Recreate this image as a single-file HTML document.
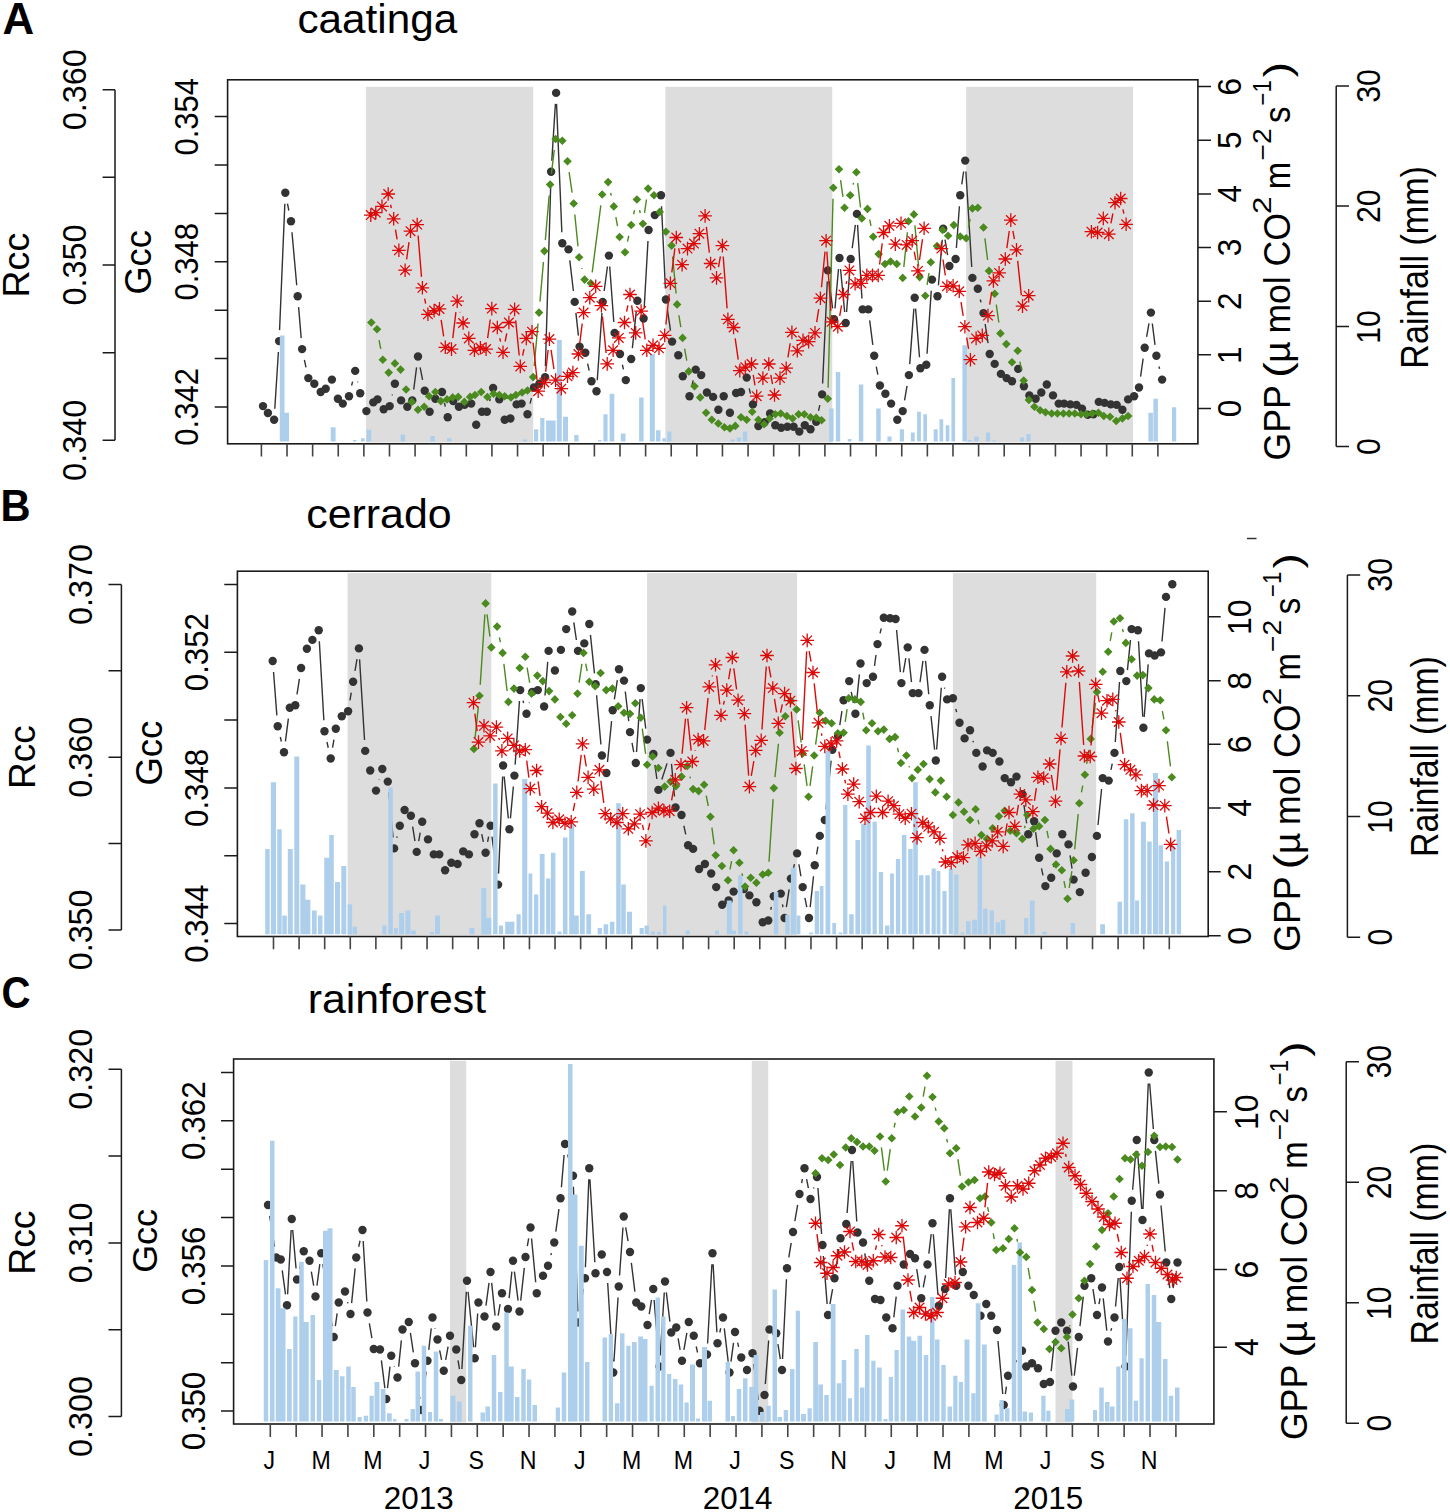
<!DOCTYPE html><html><head><meta charset="utf-8"><style>html,body{margin:0;padding:0;background:#fff;}svg{display:block;}</style></head><body>
<svg width="1450" height="1512" viewBox="0 0 1450 1512" font-family='"Liberation Sans", sans-serif' fill="#000">
<rect width="1450" height="1512" fill="#fff"/>
<rect x="365.9" y="86.8" width="167.3" height="355.7" fill="#dddddd"/>
<rect x="665.4" y="86.8" width="166.9" height="355.7" fill="#dddddd"/>
<rect x="966.2" y="86.8" width="166.9" height="355.7" fill="#dddddd"/>
<path fill="none" stroke="#333333" stroke-width="1.4" d="M274.8 408.72L278.4 352.08M279.56 330.11L284.84 203.79M287.46 203.59L288.84 210.51M291.98 232.26L296.72 285.24M298.61 307.16L301.19 338.14M304.4 359.86L306 367.34M351.62 385.52L352.58 381.58M357.61 381.63L357.79 382.47M392.2 395.39L392.4 394.51M413.72 389.49L416.58 367.41M420.11 367.29L422.59 379.91M444.42 402.73L445.28 406.57M489.67 401.16L490.33 398.64M530.09 403.61L531.41 398.19M545.42 366.1L550.78 182.7M551.8 160.72L555.4 103.88M556.55 103.89L561.85 232.21M569.79 260.32L573.41 290.98M575.9 312.83L578.4 335.67M587.64 363.55L589.16 370.55M597.26 380.23L601.94 312.87M604.16 291L607.44 266.5M609.71 266.57L613.79 321.93M622.39 364.74L623.41 369.36M632.36 348.06L636.24 311.64M644.22 307.52L647.98 240.98M661.52 206.29L665.38 288.51M667.5 310.38L670.5 330.72M692 385.49L693.2 380.31M749.18 388.32L750.42 393.68M818.52 410.95L819.78 405.15M822.61 383.41L827.29 281.39M829.18 281.31L832.62 308.39M834.98 308.34L838.52 268.96M840.54 268.95L844.66 312.05M846.56 312.03L849.84 269.97M852.2 248.1L855.4 224.8M857.56 224.88L861.94 298.42M869.69 320.31L872.81 344.89M876.27 366.6L877.83 374.7M904.57 400.26L907.03 385.94M909.72 364.13L913.88 308.67M915.59 308.66L919.51 357.24M927.04 353.72L931.26 290.58M938.43 285.24L942.27 239.76M945.01 239.65L947.59 255.15M956.39 248.03L959.41 206.27M961.77 184.41L963.63 171.49M965.87 171.58L971.73 266.92M980.31 299.51L980.99 302.39M985.15 323.98L988.05 343.12M1140.56 376.61L1143.14 358.69M1146.61 336.97L1148.99 323.43M1152.29 323.51L1155.01 344.89M1158.96 366.5L1159.54 368.9"/>
<g fill="#333333"><circle cx="263" cy="406.1" r="4.2"/><circle cx="267.9" cy="413" r="4.2"/><circle cx="274.1" cy="419.7" r="4.2"/><circle cx="279.1" cy="341.1" r="4.2"/><circle cx="285.3" cy="192.8" r="4.2"/><circle cx="291" cy="221.3" r="4.2"/><circle cx="297.7" cy="296.2" r="4.2"/><circle cx="302.1" cy="349.1" r="4.2"/><circle cx="308.3" cy="378.1" r="4.2"/><circle cx="314.3" cy="383.8" r="4.2"/><circle cx="320.7" cy="392" r="4.2"/><circle cx="325.7" cy="388.7" r="4.2"/><circle cx="331.9" cy="379.6" r="4.2"/><circle cx="337.9" cy="398.7" r="4.2"/><circle cx="342.8" cy="403.6" r="4.2"/><circle cx="349" cy="396.2" r="4.2"/><circle cx="355.2" cy="370.9" r="4.2"/><circle cx="360.2" cy="393.2" r="4.2"/><circle cx="366.4" cy="411.1" r="4.2"/><circle cx="373.3" cy="402.4" r="4.2"/><circle cx="377.5" cy="399.4" r="4.2"/><circle cx="383.7" cy="409.3" r="4.2"/><circle cx="389.7" cy="406.1" r="4.2"/><circle cx="394.9" cy="383.8" r="4.2"/><circle cx="401.1" cy="400.4" r="4.2"/><circle cx="407.3" cy="406.8" r="4.2"/><circle cx="412.3" cy="400.4" r="4.2"/><circle cx="418" cy="356.5" r="4.2"/><circle cx="424.7" cy="390.7" r="4.2"/><circle cx="429.6" cy="411.8" r="4.2"/><circle cx="435.3" cy="398.7" r="4.2"/><circle cx="442" cy="392" r="4.2"/><circle cx="447.7" cy="417.3" r="4.2"/><circle cx="453.2" cy="401.1" r="4.2"/><circle cx="458.9" cy="406.8" r="4.2"/><circle cx="464.6" cy="404.9" r="4.2"/><circle cx="471.2" cy="403.6" r="4.2"/><circle cx="476.2" cy="424.7" r="4.2"/><circle cx="481.9" cy="411.8" r="4.2"/><circle cx="486.9" cy="411.8" r="4.2"/><circle cx="493.1" cy="388" r="4.2"/><circle cx="499.3" cy="399.4" r="4.2"/><circle cx="504.7" cy="419.7" r="4.2"/><circle cx="510.4" cy="418.5" r="4.2"/><circle cx="516.6" cy="404.4" r="4.2"/><circle cx="521.6" cy="403.6" r="4.2"/><circle cx="527.5" cy="414.3" r="4.2"/><circle cx="534" cy="387.5" r="4.2"/><circle cx="539.4" cy="383.8" r="4.2"/><circle cx="545.1" cy="377.1" r="4.2"/><circle cx="551.1" cy="171.7" r="4.2"/><circle cx="556.1" cy="92.9" r="4.2"/><circle cx="562.3" cy="243.2" r="4.2"/><circle cx="568.5" cy="249.4" r="4.2"/><circle cx="574.7" cy="301.9" r="4.2"/><circle cx="579.6" cy="346.6" r="4.2"/><circle cx="585.3" cy="352.8" r="4.2"/><circle cx="591.5" cy="381.3" r="4.2"/><circle cx="596.5" cy="391.2" r="4.2"/><circle cx="602.7" cy="301.9" r="4.2"/><circle cx="608.9" cy="255.6" r="4.2"/><circle cx="614.6" cy="332.9" r="4.2"/><circle cx="620" cy="354" r="4.2"/><circle cx="625.8" cy="380.1" r="4.2"/><circle cx="631.2" cy="359" r="4.2"/><circle cx="637.4" cy="300.7" r="4.2"/><circle cx="643.6" cy="318.5" r="4.2"/><circle cx="648.6" cy="230" r="4.2"/><circle cx="654.8" cy="215.1" r="4.2"/><circle cx="661" cy="195.3" r="4.2"/><circle cx="665.9" cy="299.5" r="4.2"/><circle cx="672.1" cy="341.6" r="4.2"/><circle cx="678.3" cy="355.3" r="4.2"/><circle cx="682.8" cy="376.3" r="4.2"/><circle cx="689.5" cy="396.2" r="4.2"/><circle cx="695.7" cy="369.6" r="4.2"/><circle cx="701.2" cy="375.1" r="4.2"/><circle cx="706.9" cy="392.5" r="4.2"/><circle cx="713.1" cy="396.9" r="4.2"/><circle cx="718.4" cy="409.8" r="4.2"/><circle cx="723.7" cy="396.2" r="4.2"/><circle cx="729.9" cy="412.8" r="4.2"/><circle cx="736.1" cy="393" r="4.2"/><circle cx="741" cy="392" r="4.2"/><circle cx="746.7" cy="377.6" r="4.2"/><circle cx="752.9" cy="404.4" r="4.2"/><circle cx="758.4" cy="426" r="4.2"/><circle cx="764.6" cy="422.2" r="4.2"/><circle cx="770.1" cy="413.5" r="4.2"/><circle cx="775.3" cy="425.2" r="4.2"/><circle cx="781.2" cy="427.7" r="4.2"/><circle cx="787.4" cy="426.7" r="4.2"/><circle cx="793.6" cy="426.7" r="4.2"/><circle cx="799.3" cy="431.6" r="4.2"/><circle cx="804.8" cy="425.2" r="4.2"/><circle cx="810.5" cy="429.2" r="4.2"/><circle cx="816.2" cy="421.7" r="4.2"/><circle cx="822.1" cy="394.4" r="4.2"/><circle cx="827.8" cy="270.4" r="4.2"/><circle cx="834" cy="319.3" r="4.2"/><circle cx="839.5" cy="258" r="4.2"/><circle cx="845.7" cy="323" r="4.2"/><circle cx="850.7" cy="259" r="4.2"/><circle cx="856.9" cy="213.9" r="4.2"/><circle cx="862.6" cy="309.4" r="4.2"/><circle cx="868.3" cy="309.4" r="4.2"/><circle cx="874.2" cy="355.8" r="4.2"/><circle cx="879.9" cy="385.5" r="4.2"/><circle cx="885.4" cy="393.7" r="4.2"/><circle cx="891.1" cy="403.6" r="4.2"/><circle cx="897.3" cy="419.7" r="4.2"/><circle cx="902.7" cy="411.1" r="4.2"/><circle cx="908.9" cy="375.1" r="4.2"/><circle cx="914.7" cy="297.7" r="4.2"/><circle cx="920.4" cy="368.2" r="4.2"/><circle cx="926.3" cy="364.7" r="4.2"/><circle cx="932" cy="279.6" r="4.2"/><circle cx="937.5" cy="296.2" r="4.2"/><circle cx="943.2" cy="228.8" r="4.2"/><circle cx="949.4" cy="266" r="4.2"/><circle cx="955.6" cy="259" r="4.2"/><circle cx="960.2" cy="195.3" r="4.2"/><circle cx="965.2" cy="160.6" r="4.2"/><circle cx="972.4" cy="277.9" r="4.2"/><circle cx="977.8" cy="288.8" r="4.2"/><circle cx="983.5" cy="313.1" r="4.2"/><circle cx="989.7" cy="354" r="4.2"/><circle cx="994.7" cy="363.9" r="4.2"/><circle cx="1000.9" cy="373.9" r="4.2"/><circle cx="1006.6" cy="378.1" r="4.2"/><circle cx="1012" cy="381.3" r="4.2"/><circle cx="1018.2" cy="368.9" r="4.2"/><circle cx="1023.9" cy="386.3" r="4.2"/><circle cx="1029.4" cy="395.4" r="4.2"/><circle cx="1035.6" cy="398.7" r="4.2"/><circle cx="1041.3" cy="392.5" r="4.2"/><circle cx="1046.8" cy="384.5" r="4.2"/><circle cx="1053" cy="395.4" r="4.2"/><circle cx="1058.7" cy="403.6" r="4.2"/><circle cx="1064.1" cy="403.6" r="4.2"/><circle cx="1070.3" cy="404.4" r="4.2"/><circle cx="1076.5" cy="404.9" r="4.2"/><circle cx="1082" cy="408.6" r="4.2"/><circle cx="1087.7" cy="414.8" r="4.2"/><circle cx="1093.4" cy="414.3" r="4.2"/><circle cx="1098.8" cy="401.9" r="4.2"/><circle cx="1104.6" cy="402.9" r="4.2"/><circle cx="1110.8" cy="404.4" r="4.2"/><circle cx="1116.7" cy="404.9" r="4.2"/><circle cx="1122.4" cy="409.8" r="4.2"/><circle cx="1128.1" cy="399.4" r="4.2"/><circle cx="1134.1" cy="396.2" r="4.2"/><circle cx="1139" cy="387.5" r="4.2"/><circle cx="1144.7" cy="347.8" r="4.2"/><circle cx="1150.9" cy="312.6" r="4.2"/><circle cx="1156.4" cy="355.8" r="4.2"/><circle cx="1162.1" cy="379.6" r="4.2"/></g>
<path fill="#aecfeb" d="M279.8 441.5H284.5V335.4H279.8ZM284.5 441.5H289V412.8H284.5ZM330.7 441.5H335.6V427.2H330.7ZM353 441.5H356.5V440H353ZM361 441.5H364.6V438.3H361ZM366.6 441.5H371.3V429.7H366.6ZM400.6 441.5H405.1V434.6H400.6ZM430.4 441.5H434.8V435.9H430.4ZM447 441.5H451.5V438.3H447ZM522.8 441.5H527V439.5H522.8ZM534 441.5H538.2V429.2H534ZM540.2 441.5H544.4V418H540.2ZM546.1 441.5H550.5V420.5H546.1ZM550.5 441.5H555.6V420.5H550.5ZM556.8 441.5H561.8V339.9H556.8ZM563 441.5H568V416.8H563ZM574.2 441.5H578.6V435.1H574.2ZM598 441.5H601.5V440H598ZM603.4 441.5H607.6V414.3H603.4ZM609.6 441.5H614.3V393.7H609.6ZM620.8 441.5H625.5V433.4H620.8ZM639.1 441.5H643.6V397.4H639.1ZM649.8 441.5H654.8V354H649.8ZM656 441.5H660.5V430.2H656ZM662.2 441.5H665.9V438.3H662.2ZM667.2 441.5H671.4V431.6H667.2ZM730.4 441.5H734.8V439.6H730.4ZM736.8 441.5H741V437.6H736.8ZM742.8 441.5H747.2V431.6H742.8ZM829.1 441.5H833.6V408.6H829.1ZM835.8 441.5H840.2V372.1H835.8ZM847.7 441.5H851.4V439H847.7ZM858.8 441.5H863.3V384.5H858.8ZM876.2 441.5H880.7V408.6H876.2ZM887.4 441.5H891.6V436.6H887.4ZM899.8 441.5H904V429.2H899.8ZM910.9 441.5H914.7V432.6H910.9ZM917.1 441.5H920.9V411.8H917.1ZM923.3 441.5H927V414.3H923.3ZM933.7 441.5H937.7V429.2H933.7ZM939.5 441.5H943.2V419.2H939.5ZM945.7 441.5H949.4V425.2H945.7ZM951.4 441.5H955.1V378.1H951.4ZM962.4 441.5H966.9V345.3H962.4ZM968 441.5H972V440H968ZM974.3 441.5H978.6V436.6H974.3ZM986 441.5H990.2V432.6H986ZM992 441.5H996V440.5H992ZM1020 441.5H1024V437.6H1020ZM1026.4 441.5H1030.6V434.1H1026.4ZM1148.4 441.5H1152.9V412.8H1148.4ZM1153.4 441.5H1157.9V398.7H1153.4ZM1172 441.5H1176.2V407.3H1172Z"/>
<path fill="none" stroke="#4a8a1e" stroke-width="1.4" d="M379.05 340.01L380.75 348.89M534.19 366.14L538.01 323.56M539.96 301.64L543.44 262.06M545.34 240.14L549.16 195.56M551.42 173.68L554.28 149.92M569.1 172.18L572.1 192.62M574.8 214.45L578 246.35M581.73 267.98L581.97 268.92M592.2 272.39L600.8 205.41M610.61 192.81L611.29 195.69M615.85 217.21L617.55 226.19M627.44 241.57L628.76 235.73M633.6 214.26L634.5 210.24M639.54 210.18L640.26 213.12M644.51 212.92L646.49 199.48M672.62 256.55L676.08 293.45M678.88 315.25L680.82 327.05M684.6 348.72L686.8 360.58M828.09 387.7L833.01 198.8M840.56 180.09L842.94 196.81M853.05 184.68L853.55 182.82M857.68 183.13L860.52 207.47M869.71 219.68L870.99 225.92M903.82 266.96L907.38 232.24M914.9 225.35L918.6 266.15M927.09 284.85L929.01 273.15M968.44 227.43L970.16 219.17M984.88 238.41L987.62 259.99M991.67 281.57L992.03 283.03M996.26 304.59L998.84 322.51M1019.87 361.58L1021.53 369.82"/>
<path fill="#4a8a1e" d="M371.3 318.2L375.6 322.5L371.3 326.8L367 322.5ZM377 324.9L381.3 329.2L377 333.5L372.7 329.2ZM382.8 355.4L387.1 359.7L382.8 364L378.5 359.7ZM388.7 368.3L393 372.6L388.7 376.9L384.4 372.6ZM394.9 359.1L399.2 363.4L394.9 367.7L390.6 363.4ZM400.6 365.3L404.9 369.6L400.6 373.9L396.3 369.6ZM406.1 385.2L410.4 389.5L406.1 393.8L401.8 389.5ZM411.8 397.6L416.1 401.9L411.8 406.2L407.5 401.9ZM418 405.5L422.3 409.8L418 414.1L413.7 409.8ZM424.2 402.5L428.5 406.8L424.2 411.1L419.9 406.8ZM429.1 391.9L433.4 396.2L429.1 400.5L424.8 396.2ZM435.3 387.7L439.6 392L435.3 396.3L431 392ZM440.8 396.8L445.1 401.1L440.8 405.4L436.5 401.1ZM447 395.1L451.3 399.4L447 403.7L442.7 399.4ZM452.7 393.1L457 397.4L452.7 401.7L448.4 397.4ZM458.2 392.6L462.5 396.9L458.2 401.2L453.9 396.9ZM464.4 397.6L468.7 401.9L464.4 406.2L460.1 401.9ZM470.1 392.6L474.4 396.9L470.1 401.2L465.8 396.9ZM475 390.7L479.3 395L475 399.3L470.7 395ZM481.2 387.7L485.5 392L481.2 396.3L476.9 392ZM487.4 392.7L491.7 397L487.4 401.3L483.1 397ZM493.6 389.4L497.9 393.7L493.6 398L489.3 393.7ZM499.3 390.7L503.6 395L499.3 399.3L495 395ZM504.7 391.9L509 396.2L504.7 400.5L500.4 396.2ZM510.9 393.1L515.2 397.4L510.9 401.7L506.6 397.4ZM515.9 390.7L520.2 395L515.9 399.3L511.6 395ZM522.1 388.2L526.4 392.5L522.1 396.8L517.8 392.5ZM527.5 386.2L531.8 390.5L527.5 394.8L523.2 390.5ZM533.2 372.8L537.5 377.1L533.2 381.4L528.9 377.1ZM539 308.3L543.3 312.6L539 316.9L534.7 312.6ZM544.4 246.8L548.7 251.1L544.4 255.4L540.1 251.1ZM550.1 180.3L554.4 184.6L550.1 188.9L545.8 184.6ZM555.6 134.7L559.9 139L555.6 143.3L551.3 139ZM562.3 136.4L566.6 140.7L562.3 145L558 140.7ZM567.5 157L571.8 161.3L567.5 165.6L563.2 161.3ZM573.7 199.2L578 203.5L573.7 207.8L569.4 203.5ZM579.1 253L583.4 257.3L579.1 261.6L574.8 257.3ZM584.6 275.3L588.9 279.6L584.6 283.9L580.3 279.6ZM590.8 279L595.1 283.3L590.8 287.6L586.5 283.3ZM602.2 190.2L606.5 194.5L602.2 198.8L597.9 194.5ZM608.1 177.8L612.4 182.1L608.1 186.4L603.8 182.1ZM613.8 202.1L618.1 206.4L613.8 210.7L609.5 206.4ZM619.6 232.7L623.9 237L619.6 241.3L615.3 237ZM625 248L629.3 252.3L625 256.6L620.7 252.3ZM631.2 220.7L635.5 225L631.2 229.3L626.9 225ZM636.9 195.2L641.2 199.5L636.9 203.8L632.6 199.5ZM642.9 219.5L647.2 223.8L642.9 228.1L638.6 223.8ZM648.1 184.3L652.4 188.6L648.1 192.9L643.8 188.6ZM654 191L658.3 195.3L654 199.6L649.7 195.3ZM659.7 207.6L664 211.9L659.7 216.2L655.4 211.9ZM665.9 227.4L670.2 231.7L665.9 236L661.6 231.7ZM671.6 241.3L675.9 245.6L671.6 249.9L667.3 245.6ZM677.1 300.1L681.4 304.4L677.1 308.7L672.8 304.4ZM682.6 333.6L686.9 337.9L682.6 342.2L678.3 337.9ZM688.8 367.1L693.1 371.4L688.8 375.7L684.5 371.4ZM694.5 382L698.8 386.3L694.5 390.6L690.2 386.3ZM700.2 393.1L704.5 397.4L700.2 401.7L695.9 397.4ZM706.1 408.5L710.4 412.8L706.1 417.1L701.8 412.8ZM711.8 415.4L716.1 419.7L711.8 424L707.5 419.7ZM718.3 419.2L722.6 423.5L718.3 427.8L714 423.5ZM724.4 422.9L728.7 427.2L724.4 431.5L720.1 427.2ZM729.9 424.1L734.2 428.4L729.9 432.7L725.6 428.4ZM735.3 421.6L739.6 425.9L735.3 430.2L731 425.9ZM741 413L745.3 417.3L741 421.6L736.7 417.3ZM746.7 415.4L751 419.7L746.7 424L742.4 419.7ZM752.2 407.5L756.5 411.8L752.2 416.1L747.9 411.8ZM758.4 415.4L762.7 419.7L758.4 424L754.1 419.7ZM764.1 419.9L768.4 424.2L764.1 428.5L759.8 424.2ZM769.6 414.2L773.9 418.5L769.6 422.8L765.3 418.5ZM775.3 410L779.6 414.3L775.3 418.6L771 414.3ZM780.7 409.2L785 413.5L780.7 417.8L776.4 413.5ZM786.9 411.7L791.2 416L786.9 420.3L782.6 416ZM792.6 414.2L796.9 418.5L792.6 422.8L788.3 418.5ZM798.6 410L802.9 414.3L798.6 418.6L794.3 414.3ZM804.3 410L808.6 414.3L804.3 418.6L800 414.3ZM810.5 413L814.8 417.3L810.5 421.6L806.2 417.3ZM816.2 413.5L820.5 417.8L816.2 422.1L811.9 417.8ZM821.6 415.9L825.9 420.2L821.6 424.5L817.3 420.2ZM827.8 394.4L832.1 398.7L827.8 403L823.5 398.7ZM833.3 183.5L837.6 187.8L833.3 192.1L829 187.8ZM839 164.9L843.3 169.2L839 173.5L834.7 169.2ZM844.5 203.4L848.8 207.7L844.5 212L840.2 207.7ZM850.2 191L854.5 195.3L850.2 199.6L845.9 195.3ZM856.4 167.9L860.7 172.2L856.4 176.5L852.1 172.2ZM861.8 214.1L866.1 218.4L861.8 222.7L857.5 218.4ZM867.5 204.6L871.8 208.9L867.5 213.2L863.2 208.9ZM873.2 232.4L877.5 236.7L873.2 241L868.9 236.7ZM878.7 249.8L883 254.1L878.7 258.4L874.4 254.1ZM884.9 259.7L889.2 264L884.9 268.3L880.6 264ZM890.6 257.2L894.9 261.5L890.6 265.8L886.3 261.5ZM896.8 259.7L901.1 264L896.8 268.3L892.5 264ZM902.7 273.6L907 277.9L902.7 282.2L898.4 277.9ZM908.5 217L912.8 221.3L908.5 225.6L904.2 221.3ZM913.9 210.1L918.2 214.4L913.9 218.7L909.6 214.4ZM919.6 272.8L923.9 277.1L919.6 281.4L915.3 277.1ZM925.3 291.4L929.6 295.7L925.3 300L921 295.7ZM930.8 258L935.1 262.3L930.8 266.6L926.5 262.3ZM937 241.8L941.3 246.1L937 250.4L932.7 246.1ZM942.7 225.7L947 230L942.7 234.3L938.4 230ZM948.1 231.4L952.4 235.7L948.1 240L943.8 235.7ZM953.8 220.8L958.1 225.1L953.8 229.4L949.5 225.1ZM960.2 232.2L964.5 236.5L960.2 240.8L955.9 236.5ZM966.2 233.9L970.5 238.2L966.2 242.5L961.9 238.2ZM972.4 204.1L976.7 208.4L972.4 212.7L968.1 208.4ZM977.8 203.4L982.1 207.7L977.8 212L973.5 207.7ZM983.5 223.2L987.8 227.5L983.5 231.8L979.2 227.5ZM989 266.6L993.3 270.9L989 275.2L984.7 270.9ZM994.7 289.4L999 293.7L994.7 298L990.4 293.7ZM1000.4 329.1L1004.7 333.4L1000.4 337.7L996.1 333.4ZM1006.3 339.8L1010.6 344.1L1006.3 348.4L1002 344.1ZM1012 357.9L1016.3 362.2L1012 366.5L1007.7 362.2ZM1017.7 346.5L1022 350.8L1017.7 355.1L1013.4 350.8ZM1023.7 376.3L1028 380.6L1023.7 384.9L1019.4 380.6ZM1028.9 395.6L1033.2 399.9L1028.9 404.2L1024.6 399.9ZM1034.4 402.5L1038.7 406.8L1034.4 411.1L1030.1 406.8ZM1040.1 406L1044.4 410.3L1040.1 414.6L1035.8 410.3ZM1045.5 408L1049.8 412.3L1045.5 416.6L1041.2 412.3ZM1051.7 409.2L1056 413.5L1051.7 417.8L1047.4 413.5ZM1057.4 409.2L1061.7 413.5L1057.4 417.8L1053.1 413.5ZM1063.4 409.2L1067.7 413.5L1063.4 417.8L1059.1 413.5ZM1069.1 409.2L1073.4 413.5L1069.1 417.8L1064.8 413.5ZM1074.8 409.2L1079.1 413.5L1074.8 417.8L1070.5 413.5ZM1081 410L1085.3 414.3L1081 418.6L1076.7 414.3ZM1086.4 410L1090.7 414.3L1086.4 418.6L1082.1 414.3ZM1092.2 409.2L1096.5 413.5L1092.2 417.8L1087.9 413.5ZM1098.4 408.5L1102.7 412.8L1098.4 417.1L1094.1 412.8ZM1103.8 411.7L1108.1 416L1103.8 420.3L1099.5 416ZM1110 412.5L1114.3 416.8L1110 421.1L1105.7 416.8ZM1116.2 416.7L1120.5 421L1116.2 425.3L1111.9 421ZM1122.4 414.2L1126.7 418.5L1122.4 422.8L1118.1 418.5ZM1128.1 411.7L1132.4 416L1128.1 420.3L1123.8 416Z"/>
<path fill="none" stroke="#dd0a0a" stroke-width="1.4" d="M390.58 204.74L391.32 208.06M395.49 229.65L397.11 239.45M406.61 259.3L408.99 242.1M418.1 235.56L421.5 276.84M424.64 298.57L425.66 303.53M441.14 319.78L443.66 336.42M452.8 338.18L455.9 312.12M460.07 311.82L460.23 312.38M487.63 338.21L490.27 319.49M499.76 338.22L500.54 341.58M505.14 341.51L506.76 333.29M515.69 320.35L519.21 355.45M522.6 355.64L524 349.16M533.14 342.64L537.06 380.26M545.66 371.57L548.14 350.03M551.04 349.98L553.96 369.22M579.77 343.09L582.23 323.51M602.49 316.65L606.11 352.95M626.62 311.71L627.88 305.29M631.62 305.38L634.08 322.02M642.68 321.99L645.22 339.41M665.9 324.47L669.2 294.23M671.81 272.39L674.89 248.41M678.59 248.26L679.81 253.94M706.36 226.83L709.34 252.57M718.48 267.08L720.42 256.42M723.22 256.57L727.08 308.33M735.17 338.39L738.23 359.71M753.25 374.86L754.95 385.34M770.79 374.82L772.51 384.18M787.93 357.34L790.17 343.26M816.69 322.03L818.71 309.07M821.49 287.25L825.01 251.65M826.84 251.67L830.86 310.83M839.72 315.87L841.58 305.33M846.12 283.82L846.78 281.08M879.57 264.49L882.23 243.41M914.24 251.51L915.86 260.09M919.48 260.01L922.52 239.19M942.99 259.48L945.31 275.42M961.02 302.16L963.18 315.84M966.71 337.55L968.59 348.85M989.69 304.73L991.71 291.77M1006.84 248.11L1009.26 230.99M1012.87 230.9L1014.43 239.1M1017.67 260.84L1021.33 295.16M1110.92 223.41L1112.88 213.49M1122.95 209.27L1123.85 213.53"/>
<path fill="none" stroke="#dd0a0a" stroke-width="1.3" d="M364 215.1H377.6M370.8 208.3V221.9M366 210.3L375.6 219.9M366 219.9L375.6 210.3M369 212.6H382.6M375.8 205.8V219.4M371 207.8L380.6 217.4M371 217.4L380.6 207.8M375.2 206.4H388.8M382 199.6V213.2M377.2 201.6L386.8 211.2M377.2 211.2L386.8 201.6M381.4 194H395M388.2 187.2V200.8M383.4 189.2L393 198.8M383.4 198.8L393 189.2M386.9 218.8H400.5M393.7 212V225.6M388.9 214L398.5 223.6M388.9 223.6L398.5 214M392.1 250.3H405.7M398.9 243.5V257.1M394.1 245.5L403.7 255.1M394.1 255.1L403.7 245.5M398.3 270.2H411.9M405.1 263.4V277M400.3 265.4L409.9 275M400.3 275L409.9 265.4M403.7 231.2H417.3M410.5 224.4V238M405.7 226.4L415.3 236M405.7 236L415.3 226.4M410.4 224.6H424M417.2 217.8V231.4M412.4 219.8L422 229.4M412.4 229.4L422 219.8M415.6 287.8H429.2M422.4 281V294.6M417.6 283L427.2 292.6M417.6 292.6L427.2 283M421.1 314.3H434.7M427.9 307.5V321.1M423.1 309.5L432.7 319.1M423.1 319.1L432.7 309.5M427.3 310.6H440.9M434.1 303.8V317.4M429.3 305.8L438.9 315.4M429.3 315.4L438.9 305.8M432.7 308.9H446.3M439.5 302.1V315.7M434.7 304.1L444.3 313.7M434.7 313.7L444.3 304.1M438.5 347.3H452.1M445.3 340.5V354.1M440.5 342.5L450.1 352.1M440.5 352.1L450.1 342.5M444.7 349.1H458.3M451.5 342.3V355.9M446.7 344.3L456.3 353.9M446.7 353.9L456.3 344.3M450.4 301.2H464M457.2 294.4V308M452.4 296.4L462 306M452.4 306L462 296.4M456.3 323H469.9M463.1 316.2V329.8M458.3 318.2L467.9 327.8M458.3 327.8L467.9 318.2M462 338.4H475.6M468.8 331.6V345.2M464 333.6L473.6 343.2M464 343.2L473.6 333.6M467.6 350.3H481.2M474.4 343.5V357.1M469.6 345.5L479.2 355.1M469.6 355.1L479.2 345.5M473.6 347.8H487.2M480.4 341V354.6M475.6 343L485.2 352.6M475.6 352.6L485.2 343M479.3 349.1H492.9M486.1 342.3V355.9M481.3 344.3L490.9 353.9M481.3 353.9L490.9 344.3M485 308.6H498.6M491.8 301.8V315.4M487 303.8L496.6 313.4M487 313.4L496.6 303.8M490.5 327.5H504.1M497.3 320.7V334.3M492.5 322.7L502.1 332.3M492.5 332.3L502.1 322.7M496.2 352.3H509.8M503 345.5V359.1M498.2 347.5L507.8 357.1M498.2 357.1L507.8 347.5M502.1 322.5H515.7M508.9 315.7V329.3M504.1 317.7L513.7 327.3M504.1 327.3L513.7 317.7M507.8 309.4H521.4M514.6 302.6V316.2M509.8 304.6L519.4 314.2M509.8 314.2L519.4 304.6M513.5 366.4H527.1M520.3 359.6V373.2M515.5 361.6L525.1 371.2M515.5 371.2L525.1 361.6M519.5 338.4H533.1M526.3 331.6V345.2M521.5 333.6L531.1 343.2M521.5 343.2L531.1 333.6M525.2 331.7H538.8M532 324.9V338.5M527.2 326.9L536.8 336.5M527.2 336.5L536.8 326.9M531.4 391.2H545M538.2 384.4V398M533.4 386.4L543 396M533.4 396L543 386.4M537.6 382.5H551.2M544.4 375.7V389.3M539.6 377.7L549.2 387.3M539.6 387.3L549.2 377.7M542.6 339.1H556.2M549.4 332.3V345.9M544.6 334.3L554.2 343.9M544.6 343.9L554.2 334.3M548.8 380.1H562.4M555.6 373.3V386.9M550.8 375.3L560.4 384.9M550.8 384.9L560.4 375.3M554.5 388.7H568.1M561.3 381.9V395.5M556.5 383.9L566.1 393.5M556.5 393.5L566.1 383.9M560.7 376.3H574.3M567.5 369.5V383.1M562.7 371.5L572.3 381.1M562.7 381.1L572.3 371.5M566.1 372.6H579.7M572.9 365.8V379.4M568.1 367.8L577.7 377.4M568.1 377.4L577.7 367.8M571.6 354H585.2M578.4 347.2V360.8M573.6 349.2L583.2 358.8M573.6 358.8L583.2 349.2M576.8 312.6H590.4M583.6 305.8V319.4M578.8 307.8L588.4 317.4M578.8 317.4L588.4 307.8M583 297.7H596.6M589.8 290.9V304.5M585 292.9L594.6 302.5M585 302.5L594.6 292.9M588.9 286.3H602.5M595.7 279.5V293.1M590.9 281.5L600.5 291.1M590.9 291.1L600.5 281.5M594.6 305.7H608.2M601.4 298.9V312.5M596.6 300.9L606.2 310.5M596.6 310.5L606.2 300.9M600.4 363.9H614M607.2 357.1V370.7M602.4 359.1L612 368.7M602.4 368.7L612 359.1M606.3 350.3H619.9M613.1 343.5V357.1M608.3 345.5L617.9 355.1M608.3 355.1L617.9 345.5M612 337.9H625.6M618.8 331.1V344.7M614 333.1L623.6 342.7M614 342.7L623.6 333.1M617.7 322.5H631.3M624.5 315.7V329.3M619.7 317.7L629.3 327.3M619.7 327.3L629.3 317.7M623.2 294.5H636.8M630 287.7V301.3M625.2 289.7L634.8 299.3M625.2 299.3L634.8 289.7M628.9 332.9H642.5M635.7 326.1V339.7M630.9 328.1L640.5 337.7M630.9 337.7L640.5 328.1M634.3 311.1H647.9M641.1 304.3V317.9M636.3 306.3L645.9 315.9M636.3 315.9L645.9 306.3M640 350.3H653.6M646.8 343.5V357.1M642 345.5L651.6 355.1M642 355.1L651.6 345.5M646.2 345.3H659.8M653 338.5V352.1M648.2 340.5L657.8 350.1M648.2 350.1L657.8 340.5M652.2 348.3H665.8M659 341.5V355.1M654.2 343.5L663.8 353.1M654.2 353.1L663.8 343.5M657.9 335.4H671.5M664.7 328.6V342.2M659.9 330.6L669.5 340.2M659.9 340.2L669.5 330.6M663.6 283.3H677.2M670.4 276.5V290.1M665.6 278.5L675.2 288.1M665.6 288.1L675.2 278.5M669.5 237.5H683.1M676.3 230.7V244.3M671.5 232.7L681.1 242.3M671.5 242.3L681.1 232.7M675.3 264.7H688.9M682.1 257.9V271.5M677.3 259.9L686.9 269.5M677.3 269.5L686.9 259.9M680.7 248.6H694.3M687.5 241.8V255.4M682.7 243.8L692.3 253.4M682.7 253.4L692.3 243.8M687.2 243.6H700.8M694 236.8V250.4M689.2 238.8L698.8 248.4M689.2 248.4L698.8 238.8M692.6 233.7H706.2M699.4 226.9V240.5M694.6 228.9L704.2 238.5M694.6 238.5L704.2 228.9M698.3 215.9H711.9M705.1 209.1V222.7M700.3 211.1L709.9 220.7M700.3 220.7L709.9 211.1M703.8 263.5H717.4M710.6 256.7V270.3M705.8 258.7L715.4 268.3M705.8 268.3L715.4 258.7M709.7 277.9H723.3M716.5 271.1V284.7M711.7 273.1L721.3 282.7M711.7 282.7L721.3 273.1M715.6 245.6H729.2M722.4 238.8V252.4M717.6 240.8L727.2 250.4M717.6 250.4L727.2 240.8M721.1 319.3H734.7M727.9 312.5V326.1M723.1 314.5L732.7 324.1M723.1 324.1L732.7 314.5M726.8 327.5H740.4M733.6 320.7V334.3M728.8 322.7L738.4 332.3M728.8 332.3L738.4 322.7M733 370.6H746.6M739.8 363.8V377.4M735 365.8L744.6 375.4M735 375.4L744.6 365.8M738.5 367.2H752.1M745.3 360.4V374M740.5 362.4L750.1 372M740.5 372L750.1 362.4M744.7 364H758.3M751.5 357.2V370.8M746.7 359.2L756.3 368.8M746.7 368.8L756.3 359.2M749.9 396.2H763.5M756.7 389.4V403M751.9 391.4L761.5 401M751.9 401L761.5 391.4M756.1 378.1H769.7M762.9 371.3V384.9M758.1 373.3L767.7 382.9M758.1 382.9L767.7 373.3M762 364H775.6M768.8 357.2V370.8M764 359.2L773.6 368.8M764 368.8L773.6 359.2M767.7 395H781.3M774.5 388.2V401.8M769.7 390.2L779.3 399.8M769.7 399.8L779.3 390.2M773.2 378.1H786.8M780 371.3V384.9M775.2 373.3L784.8 382.9M775.2 382.9L784.8 373.3M779.4 368.2H793M786.2 361.4V375M781.4 363.4L791 373M781.4 373L791 363.4M785.1 332.4H798.7M791.9 325.6V339.2M787.1 327.6L796.7 337.2M787.1 337.2L796.7 327.6M790.5 350.8H804.1M797.3 344V357.6M792.5 346L802.1 355.6M792.5 355.6L802.1 346M796.2 340.4H809.8M803 333.6V347.2M798.2 335.6L807.8 345.2M798.2 345.2L807.8 335.6M801.9 341.6H815.5M808.7 334.8V348.4M803.9 336.8L813.5 346.4M803.9 346.4L813.5 336.8M808.2 332.9H821.8M815 326.1V339.7M810.2 328.1L819.8 337.7M810.2 337.7L819.8 328.1M813.6 298.2H827.2M820.4 291.4V305M815.6 293.4L825.2 303M815.6 303L825.2 293.4M819.3 240.7H832.9M826.1 233.9V247.5M821.3 235.9L830.9 245.5M821.3 245.5L830.9 235.9M824.8 321.8H838.4M831.6 315V328.6M826.8 317L836.4 326.6M826.8 326.6L836.4 317M831 326.7H844.6M837.8 319.9V333.5M833 321.9L842.6 331.5M833 331.5L842.6 321.9M836.7 294.5H850.3M843.5 287.7V301.3M838.7 289.7L848.3 299.3M838.7 299.3L848.3 289.7M842.6 270.4H856.2M849.4 263.6V277.2M844.6 265.6L854.2 275.2M844.6 275.2L854.2 265.6M848.3 283.8H861.9M855.1 277V290.6M850.3 279L859.9 288.6M850.3 288.6L859.9 279M854.5 283.3H868.1M861.3 276.5V290.1M856.5 278.5L866.1 288.1M856.5 288.1L866.1 278.5M860 275.4H873.6M866.8 268.6V282.2M862 270.6L871.6 280.2M862 280.2L871.6 270.6M865.7 275.4H879.3M872.5 268.6V282.2M867.7 270.6L877.3 280.2M867.7 280.2L877.3 270.6M871.4 275.4H885M878.2 268.6V282.2M873.4 270.6L883 280.2M873.4 280.2L883 270.6M876.8 232.5H890.4M883.6 225.7V239.3M878.8 227.7L888.4 237.3M878.8 237.3L888.4 227.7M882.6 225.8H896.2M889.4 219V232.6M884.6 221L894.2 230.6M884.6 230.6L894.2 221M888.5 244.1H902.1M895.3 237.3V250.9M890.5 239.3L900.1 248.9M890.5 248.9L900.1 239.3M894.2 223.3H907.8M901 216.5V230.1M896.2 218.5L905.8 228.1M896.2 228.1L905.8 218.5M899.9 244.9H913.5M906.7 238.1V251.7M901.9 240.1L911.5 249.7M901.9 249.7L911.5 240.1M905.4 240.7H919M912.2 233.9V247.5M907.4 235.9L917 245.5M907.4 245.5L917 235.9M911.1 270.9H924.7M917.9 264.1V277.7M913.1 266.1L922.7 275.7M913.1 275.7L922.7 266.1M917.3 228.3H930.9M924.1 221.5V235.1M919.3 223.5L928.9 233.1M919.3 233.1L928.9 223.5M934.6 248.6H948.2M941.4 241.8V255.4M936.6 243.8L946.2 253.4M936.6 253.4L946.2 243.8M940.1 286.3H953.7M946.9 279.5V293.1M942.1 281.5L951.7 291.1M942.1 291.1L951.7 281.5M946.3 285.8H959.9M953.1 279V292.6M948.3 281L957.9 290.6M948.3 290.6L957.9 281M952.5 291.3H966.1M959.3 284.5V298.1M954.5 286.5L964.1 296.1M954.5 296.1L964.1 286.5M958.1 326.7H971.7M964.9 319.9V333.5M960.1 321.9L969.7 331.5M960.1 331.5L969.7 321.9M963.6 359.7H977.2M970.4 352.9V366.5M965.6 354.9L975.2 364.5M965.6 364.5L975.2 354.9M969.3 338.4H982.9M976.1 331.6V345.2M971.3 333.6L980.9 343.2M971.3 343.2L980.9 333.6M975.5 335.4H989.1M982.3 328.6V342.2M977.5 330.6L987.1 340.2M977.5 340.2L987.1 330.6M981.2 315.6H994.8M988 308.8V322.4M983.2 310.8L992.8 320.4M983.2 320.4L992.8 310.8M986.6 280.9H1000.2M993.4 274.1V287.7M988.6 276.1L998.2 285.7M988.6 285.7L998.2 276.1M992.3 272.9H1005.9M999.1 266.1V279.7M994.3 268.1L1003.9 277.7M994.3 277.7L1003.9 268.1M998.5 259H1012.1M1005.3 252.2V265.8M1000.5 254.2L1010.1 263.8M1000.5 263.8L1010.1 254.2M1004 220.1H1017.6M1010.8 213.3V226.9M1006 215.3L1015.6 224.9M1006 224.9L1015.6 215.3M1009.7 249.9H1023.3M1016.5 243.1V256.7M1011.7 245.1L1021.3 254.7M1011.7 254.7L1021.3 245.1M1015.7 306.1H1029.3M1022.5 299.3V312.9M1017.7 301.3L1027.3 310.9M1017.7 310.9L1027.3 301.3M1021.9 295.7H1035.5M1028.7 288.9V302.5M1023.9 290.9L1033.5 300.5M1023.9 300.5L1033.5 290.9M1084.6 231.7H1098.2M1091.4 224.9V238.5M1086.6 226.9L1096.2 236.5M1086.6 236.5L1096.2 226.9M1090.8 232.5H1104.4M1097.6 225.7V239.3M1092.8 227.7L1102.4 237.3M1092.8 237.3L1102.4 227.7M1096.5 218.4H1110.1M1103.3 211.6V225.2M1098.5 213.6L1108.1 223.2M1098.5 223.2L1108.1 213.6M1102 234.2H1115.6M1108.8 227.4V241M1104 229.4L1113.6 239M1104 239L1113.6 229.4M1108.2 202.7H1121.8M1115 195.9V209.5M1110.2 197.9L1119.8 207.5M1110.2 207.5L1119.8 197.9M1113.9 198.5H1127.5M1120.7 191.7V205.3M1115.9 193.7L1125.5 203.3M1115.9 203.3L1125.5 193.7M1119.3 224.3H1132.9M1126.1 217.5V231.1M1121.3 219.5L1130.9 229.1M1121.3 229.1L1130.9 219.5"/>
<rect x="227.6" y="79.8" width="970.3" height="364" fill="none" stroke="#1a1a1a" stroke-width="1.6"/>
<path stroke="#444" stroke-width="1.6" d="M261.4 443.8V456.6M287.01 443.8V456.6M312.63 443.8V456.6M338.24 443.8V456.6M363.86 443.8V456.6M389.47 443.8V456.6M415.08 443.8V456.6M440.7 443.8V456.6M466.31 443.8V456.6M491.93 443.8V456.6M517.54 443.8V456.6M543.15 443.8V456.6M568.77 443.8V456.6M594.38 443.8V456.6M620 443.8V456.6M645.61 443.8V456.6M671.22 443.8V456.6M696.84 443.8V456.6M722.45 443.8V456.6M748.07 443.8V456.6M773.68 443.8V456.6M799.29 443.8V456.6M824.91 443.8V456.6M850.52 443.8V456.6M876.14 443.8V456.6M901.75 443.8V456.6M927.36 443.8V456.6M952.98 443.8V456.6M978.59 443.8V456.6M1004.21 443.8V456.6M1029.82 443.8V456.6M1055.43 443.8V456.6M1081.05 443.8V456.6M1106.66 443.8V456.6M1132.28 443.8V456.6M1157.89 443.8V456.6"/>
<path stroke="#1a1a1a" stroke-width="1.5" d="M214.7 116.6H227.6M214.7 165H227.6M214.7 213.4H227.6M214.7 261.8H227.6M214.7 310.2H227.6M214.7 358.6H227.6M214.7 407H227.6"/>
<text transform="translate(198.17 155.55) rotate(-90) scale(0.9298 1)" font-size="33.38">0.354</text>
<text transform="translate(198.17 300.6) rotate(-90) scale(0.9298 1)" font-size="33.38">0.348</text>
<text transform="translate(198.17 445.64) rotate(-90) scale(0.9298 1)" font-size="33.38">0.342</text>
<path fill="none" stroke="#1a1a1a" stroke-width="1.5" d="M115 89.7V440.3M102.6 89.7H115M102.6 177.35H115M102.6 265H115M102.6 352.65H115M102.6 440.3H115"/>
<text transform="translate(86.26 130.3) rotate(-90) scale(0.9529 1)" font-size="34.08">0.360</text>
<text transform="translate(86.26 305.6) rotate(-90) scale(0.9529 1)" font-size="34.08">0.350</text>
<text transform="translate(86.26 480.9) rotate(-90) scale(0.9529 1)" font-size="34.08">0.340</text>
<text transform="translate(29.43 297.51) rotate(-90) scale(1.0158 1)" font-size="37">Rcc</text>
<text transform="translate(151.33 294.61) rotate(-90) scale(0.9711 1)" font-size="37.32">Gcc</text>
<path stroke="#1a1a1a" stroke-width="1.5" d="M1197.9 408.4H1211M1197.9 354.77H1211M1197.9 301.14H1211M1197.9 247.51H1211M1197.9 193.88H1211M1197.9 140.25H1211M1197.9 86.62H1211"/>
<text transform="translate(1241.47 417.16) rotate(-90) scale(0.9500 1)" font-size="33.24">0</text>
<text transform="translate(1241.47 363.93) rotate(-90) scale(0.9500 1)" font-size="33.24">1</text>
<text transform="translate(1241.47 309.9) rotate(-90) scale(0.9500 1)" font-size="33.24">2</text>
<text transform="translate(1241.47 256.19) rotate(-90) scale(0.9500 1)" font-size="33.24">3</text>
<text transform="translate(1241.47 202.56) rotate(-90) scale(0.9500 1)" font-size="33.24">4</text>
<text transform="translate(1241.47 149.01) rotate(-90) scale(0.9500 1)" font-size="33.24">5</text>
<text transform="translate(1241.47 95.46) rotate(-90) scale(0.9500 1)" font-size="33.24">6</text>
<text transform="translate(1289.6 460.38) rotate(-90) scale(0.9840 1)" font-size="36.2">GPP</text><text transform="translate(1289.6 378.03) rotate(-90) scale(1.3030 1)" font-size="36.2">(</text><text transform="translate(1289.6 362.7) rotate(-90) scale(1.0252 1)" font-size="36.2">µ</text><text transform="translate(1289.6 333.61) rotate(-90) scale(0.9836 1)" font-size="36.2">mol</text><text transform="translate(1289.6 266.59) rotate(-90) scale(0.9866 1)" font-size="36.2">CO</text><text transform="translate(1271 213.97) rotate(-90) scale(1.2571 1)" font-size="25">2</text><text transform="translate(1289.6 189.14) rotate(-90) scale(0.9077 1)" font-size="36.2">m</text><text transform="translate(1271 160.61) rotate(-90) scale(1.1308 1)" font-size="25">−2</text><text transform="translate(1289.6 122.89) rotate(-90) scale(0.9081 1)" font-size="36.2">s</text><text transform="translate(1271 105.51) rotate(-90) scale(0.8846 1)" font-size="25">−1</text><text transform="translate(1289.6 77.16) rotate(-90) scale(1.2643 1)" font-size="36.2">)</text>
<path fill="none" stroke="#1a1a1a" stroke-width="1.5" d="M1336.2 85.9V446.6M1336.2 85.9H1349M1336.2 206.1H1349M1336.2 326.4H1349M1336.2 446.6H1349"/>
<text transform="translate(1380.16 102.66) rotate(-90) scale(0.8932 1)" font-size="33.8">30</text>
<text transform="translate(1380.16 223.01) rotate(-90) scale(0.8932 1)" font-size="33.8">20</text>
<text transform="translate(1380.16 343.69) rotate(-90) scale(0.8932 1)" font-size="33.8">10</text>
<text transform="translate(1380.16 454.98) rotate(-90) scale(0.8932 1)" font-size="33.8">0</text>
<text transform="translate(1428.1 368.63) rotate(-90) scale(0.8966 1)" font-size="38">Rainfall (mm)</text>
<text transform="translate(2.6 34.3) scale(0.9960 1)" font-size="44.06" font-weight="bold">A</text>
<text transform="translate(297.5 32.63) scale(1.0234 1)" font-size="41.28" font-weight="normal">caatinga</text>
<rect x="347.6" y="573" width="143.7" height="362" fill="#dddddd"/>
<rect x="647.1" y="573" width="150" height="362" fill="#dddddd"/>
<rect x="952.9" y="573" width="143.3" height="362" fill="#dddddd"/>
<path fill="none" stroke="#333333" stroke-width="1.4" d="M273.54 671.97L276.86 715.33M280.3 736.99L281.4 741.51M285.42 741.29L288.38 718.61M296.99 694.33L299.41 678.87M319.33 641.28L323.87 720.32M326.94 742.02L328.26 747.78M332.56 747.66L333.94 739.64M349.94 700.36L351.26 692.64M354.98 670.96L357.02 659.24M359.57 659.38L364.53 739.92M379.08 780.04L379.22 779.56M388.83 792.55L393.07 837.45M396.79 837.73L397.11 836.47M412.64 826.66L414.96 841.04M418.68 841.08L420.22 832.62M481.73 834.07L483.37 841.93M487.61 841.89L488.59 836.61M491.99 836.71L496.71 873.69M498.56 873.61L502.64 776.49M504.18 776.45L508.32 818.35M510.42 818.35L513.38 786.55M515.14 764.63L519.46 701.07M523.04 700.73L523.66 703.07M529.33 703.07L529.47 702.53M544.99 695.54L547.71 661.86M573.8 622.38L576.4 640.02M590.44 634.94L594.46 673.36M596.57 695.26L600.93 744.54M607.5 762.05L611.6 721.15M614.37 699.33L617.33 680.17M625.27 691.53L628.73 721.17M632.03 742.91L633.77 752.19M636.53 752.02L640.07 699.08M642.14 699.02L645.76 728.68M654.92 764.89L656.88 779.01M661.82 779.44L667.08 763.36M671.5 763.85L674.5 796.55M683.85 825.75L685.75 834.45M770.73 909.77L771.37 906.93M782.49 904.47L782.91 907.13M786.34 907.14L789.16 889.46M793.53 867.92L794.47 864.08M798.9 864.25L800.9 876.25M804.9 897.88L806.8 907.22M810.18 907.06L813.52 876.24M816.58 854.46L817.92 846.74M825.97 809.06L831.13 760.64M839.77 725.03L841.93 711.07M851.26 691.91L853.34 702.89M856.51 702.76L859.39 674.44M874.5 665.9L876 655M880.06 633.4L881.24 628.5M896.59 629.96L900.41 672.14M903.31 672.27L905.79 658.23M908.9 658.33L911.5 682.17M920.01 682.2L922.99 660.8M925.55 660.85L928.75 694.25M930.99 716.14L934.61 749.56M936.63 749.53L941.27 687.77M944.48 687.54L944.72 688.66M955.75 708.82L956.65 712.18M972.95 740.9L973.35 742.3M1023.92 804.98L1026.68 823.42M1035.6 832.2L1037.6 846.8M1041.48 868.44L1043.02 875.36M1053.62 867.07L1054.28 864.13M1070.08 855.29L1072.02 868.71M1098 824.95L1101.6 789.05M1110.95 769.83L1112.25 763.67M1115.28 741.93L1119.52 681.97M1127.42 670.16L1130.48 640.04M1138.52 641.28L1142.78 716.82M1144.23 716.83L1148.17 664.37M1161.99 641.44L1165.01 607.86"/>
<g fill="#333333"><circle cx="272.7" cy="661" r="4.2"/><circle cx="277.7" cy="726.3" r="4.2"/><circle cx="284" cy="752.2" r="4.2"/><circle cx="289.8" cy="707.7" r="4.2"/><circle cx="295.3" cy="705.2" r="4.2"/><circle cx="301.1" cy="668" r="4.2"/><circle cx="306.9" cy="648.7" r="4.2"/><circle cx="312.4" cy="639.9" r="4.2"/><circle cx="318.7" cy="630.3" r="4.2"/><circle cx="324.5" cy="731.3" r="4.2"/><circle cx="330.7" cy="758.5" r="4.2"/><circle cx="335.8" cy="728.8" r="4.2"/><circle cx="341.8" cy="716.3" r="4.2"/><circle cx="348.1" cy="711.2" r="4.2"/><circle cx="353.1" cy="681.8" r="4.2"/><circle cx="358.9" cy="648.4" r="4.2"/><circle cx="365.2" cy="750.9" r="4.2"/><circle cx="370.2" cy="770.5" r="4.2"/><circle cx="376" cy="790.6" r="4.2"/><circle cx="382.3" cy="769" r="4.2"/><circle cx="387.8" cy="781.6" r="4.2"/><circle cx="394.1" cy="848.4" r="4.2"/><circle cx="399.8" cy="825.8" r="4.2"/><circle cx="404.6" cy="810" r="4.2"/><circle cx="410.9" cy="815.8" r="4.2"/><circle cx="416.7" cy="851.9" r="4.2"/><circle cx="422.2" cy="821.8" r="4.2"/><circle cx="428" cy="839.4" r="4.2"/><circle cx="433.8" cy="854.4" r="4.2"/><circle cx="439.3" cy="854.4" r="4.2"/><circle cx="445.1" cy="870.3" r="4.2"/><circle cx="451.3" cy="862.7" r="4.2"/><circle cx="457.6" cy="864" r="4.2"/><circle cx="463.2" cy="851.4" r="4.2"/><circle cx="468.9" cy="854.4" r="4.2"/><circle cx="474.5" cy="834.3" r="4.2"/><circle cx="479.5" cy="823.3" r="4.2"/><circle cx="485.6" cy="852.7" r="4.2"/><circle cx="490.6" cy="825.8" r="4.2"/><circle cx="498.1" cy="884.6" r="4.2"/><circle cx="503.1" cy="765.5" r="4.2"/><circle cx="509.4" cy="829.3" r="4.2"/><circle cx="514.4" cy="775.6" r="4.2"/><circle cx="520.2" cy="690.1" r="4.2"/><circle cx="526.5" cy="713.7" r="4.2"/><circle cx="532.3" cy="691.9" r="4.2"/><circle cx="537.8" cy="690.1" r="4.2"/><circle cx="544.1" cy="706.5" r="4.2"/><circle cx="548.6" cy="650.9" r="4.2"/><circle cx="554.9" cy="670.5" r="4.2"/><circle cx="560.9" cy="649.9" r="4.2"/><circle cx="566.2" cy="629.1" r="4.2"/><circle cx="572.2" cy="611.5" r="4.2"/><circle cx="578" cy="650.9" r="4.2"/><circle cx="584.3" cy="643.4" r="4.2"/><circle cx="589.3" cy="624" r="4.2"/><circle cx="595.6" cy="684.3" r="4.2"/><circle cx="601.9" cy="755.5" r="4.2"/><circle cx="606.4" cy="773" r="4.2"/><circle cx="612.7" cy="710.2" r="4.2"/><circle cx="619" cy="669.3" r="4.2"/><circle cx="624" cy="680.6" r="4.2"/><circle cx="630" cy="732.1" r="4.2"/><circle cx="635.8" cy="763" r="4.2"/><circle cx="640.8" cy="688.1" r="4.2"/><circle cx="647.1" cy="739.6" r="4.2"/><circle cx="653.4" cy="754" r="4.2"/><circle cx="658.4" cy="789.9" r="4.2"/><circle cx="670.5" cy="752.9" r="4.2"/><circle cx="675.5" cy="807.5" r="4.2"/><circle cx="681.5" cy="815" r="4.2"/><circle cx="688.1" cy="845.2" r="4.2"/><circle cx="693.1" cy="848.9" r="4.2"/><circle cx="699.1" cy="869" r="4.2"/><circle cx="704.9" cy="864" r="4.2"/><circle cx="711.2" cy="873.5" r="4.2"/><circle cx="716.2" cy="887.1" r="4.2"/><circle cx="722.2" cy="904.7" r="4.2"/><circle cx="728.6" cy="900.4" r="4.2"/><circle cx="733.6" cy="891.6" r="4.2"/><circle cx="743.9" cy="889.1" r="4.2"/><circle cx="749.4" cy="895.4" r="4.2"/><circle cx="756.4" cy="902.2" r="4.2"/><circle cx="762.7" cy="922.3" r="4.2"/><circle cx="768.3" cy="920.5" r="4.2"/><circle cx="773.8" cy="896.2" r="4.2"/><circle cx="780.8" cy="893.6" r="4.2"/><circle cx="784.6" cy="918" r="4.2"/><circle cx="790.9" cy="878.6" r="4.2"/><circle cx="797.1" cy="853.4" r="4.2"/><circle cx="802.7" cy="887.1" r="4.2"/><circle cx="809" cy="918" r="4.2"/><circle cx="814.7" cy="865.3" r="4.2"/><circle cx="819.8" cy="835.9" r="4.2"/><circle cx="824.8" cy="820" r="4.2"/><circle cx="832.3" cy="749.7" r="4.2"/><circle cx="838.1" cy="735.9" r="4.2"/><circle cx="843.6" cy="700.2" r="4.2"/><circle cx="849.2" cy="681.1" r="4.2"/><circle cx="855.4" cy="713.7" r="4.2"/><circle cx="860.5" cy="663.5" r="4.2"/><circle cx="866.7" cy="683.1" r="4.2"/><circle cx="873" cy="676.8" r="4.2"/><circle cx="877.5" cy="644.1" r="4.2"/><circle cx="883.8" cy="617.8" r="4.2"/><circle cx="890.1" cy="618.3" r="4.2"/><circle cx="895.6" cy="619" r="4.2"/><circle cx="901.4" cy="683.1" r="4.2"/><circle cx="907.7" cy="647.4" r="4.2"/><circle cx="912.7" cy="693.1" r="4.2"/><circle cx="918.5" cy="693.1" r="4.2"/><circle cx="924.5" cy="649.9" r="4.2"/><circle cx="929.8" cy="705.2" r="4.2"/><circle cx="935.8" cy="760.5" r="4.2"/><circle cx="942.1" cy="676.8" r="4.2"/><circle cx="947.1" cy="699.4" r="4.2"/><circle cx="952.9" cy="698.2" r="4.2"/><circle cx="959.5" cy="722.8" r="4.2"/><circle cx="964.6" cy="738.4" r="4.2"/><circle cx="970" cy="730.3" r="4.2"/><circle cx="976.3" cy="752.9" r="4.2"/><circle cx="982.6" cy="766.5" r="4.2"/><circle cx="987.1" cy="750.4" r="4.2"/><circle cx="992.7" cy="752.9" r="4.2"/><circle cx="999.4" cy="761.5" r="4.2"/><circle cx="1004.7" cy="778.1" r="4.2"/><circle cx="1011" cy="782.3" r="4.2"/><circle cx="1016.5" cy="776.6" r="4.2"/><circle cx="1022.3" cy="794.1" r="4.2"/><circle cx="1028.3" cy="834.3" r="4.2"/><circle cx="1034.1" cy="821.3" r="4.2"/><circle cx="1039.1" cy="857.7" r="4.2"/><circle cx="1045.4" cy="886.1" r="4.2"/><circle cx="1051.2" cy="877.8" r="4.2"/><circle cx="1056.7" cy="853.4" r="4.2"/><circle cx="1062.3" cy="834.3" r="4.2"/><circle cx="1068.5" cy="844.4" r="4.2"/><circle cx="1073.6" cy="879.6" r="4.2"/><circle cx="1079.8" cy="892.1" r="4.2"/><circle cx="1085.6" cy="872.8" r="4.2"/><circle cx="1091.9" cy="857" r="4.2"/><circle cx="1096.9" cy="835.9" r="4.2"/><circle cx="1102.7" cy="778.1" r="4.2"/><circle cx="1108.7" cy="780.6" r="4.2"/><circle cx="1114.5" cy="752.9" r="4.2"/><circle cx="1120.3" cy="671" r="4.2"/><circle cx="1126.3" cy="681.1" r="4.2"/><circle cx="1131.6" cy="629.1" r="4.2"/><circle cx="1137.9" cy="630.3" r="4.2"/><circle cx="1143.4" cy="727.8" r="4.2"/><circle cx="1149" cy="653.4" r="4.2"/><circle cx="1154.7" cy="655.5" r="4.2"/><circle cx="1161" cy="652.4" r="4.2"/><circle cx="1166" cy="596.9" r="4.2"/><circle cx="1172.3" cy="584.3" r="4.2"/></g>
<path fill="#aecfeb" d="M265.2 934.3H269.7V848.9H265.2ZM270.9 934.3H276V782.3H270.9ZM277.2 934.3H281.7V829.3H277.2ZM282.3 934.3H286.8V915.5H282.3ZM287.8 934.3H292.8V848.9H287.8ZM294.3 934.3H299.3V756.5H294.3ZM300.3 934.3H305.4V884.6H300.3ZM305.4 934.3H310.4V899.7H305.4ZM311.9 934.3H316.7V910.5H311.9ZM317.9 934.3H322.5V915.5H317.9ZM324.2 934.3H329.2V857.7H324.2ZM329.2 934.3H333.8V835.1H329.2ZM335 934.3H340V882.1H335ZM341.3 934.3H346.3V866H341.3ZM347.6 934.3H352.1V904.2H347.6ZM352.6 934.3H357.1V926.8H352.6ZM382.3 934.3H386.5V925.5H382.3ZM388.3 934.3H392.8V787.4H388.3ZM394.1 934.3H397.8V928H394.1ZM399.1 934.3H404.1V913H399.1ZM405.4 934.3H410.4V910.5H405.4ZM410.9 934.3H415.9V930.6H410.9ZM430 934.3H434V932H430ZM435 934.3H440V915.5H435ZM469.4 934.3H474.5V928H469.4ZM481.3 934.3H486.3V887.9H481.3ZM486.3 934.3H491.3V918H486.3ZM493.1 934.3H497.6V783.6H493.1ZM498.9 934.3H503.1V925.5H498.9ZM505.2 934.3H509.4V921.8H505.2ZM509.4 934.3H514.4V921.8H509.4ZM516.5 934.3H520.7V914.2H516.5ZM522.2 934.3H527.3V779.1H522.2ZM528.5 934.3H532.3V873.5H528.5ZM534 934.3H538.3V894.6H534ZM539.8 934.3H544.6V854H539.8ZM546.1 934.3H550.4V878.6H546.1ZM550.9 934.3H555.4V852.7H550.9ZM557.5 934.3H561.5V931.5H557.5ZM562.9 934.3H567.5V837.6H562.9ZM569.2 934.3H574.2V824.3H569.2ZM574.2 934.3H578.8V915.5H574.2ZM580 934.3H584.8V871H580ZM586.3 934.3H591.1V914.2H586.3ZM597.6 934.3H601.9V928H597.6ZM603.6 934.3H608.2V924.3H603.6ZM609.9 934.3H614.4V921.8H609.9ZM616.2 934.3H620.7V803.2H616.2ZM621.2 934.3H625.8V884.6H621.2ZM627 934.3H632V911.7H627ZM639.6 934.3H643.8V928H639.6ZM644.6 934.3H648.9V925.5H644.6ZM651 934.3H655V931.5H651ZM657 934.3H661V932H657ZM663 934.3H666.5V905.4H663ZM685.6 934.3H689.8V930.6H685.6ZM715 934.3H719V930.6H715ZM726.8 934.3H731.8V900.4H726.8ZM731.8 934.3H736V930.6H731.8ZM738.1 934.3H742.6V875.3H738.1ZM744.4 934.3H748.6V931.5H744.4ZM773.8 934.3H778.3V892.1H773.8ZM785.3 934.3H789.6V914.7H785.3ZM790.9 934.3H795.9V867.8H790.9ZM796.6 934.3H800.4V915.5H796.6ZM809 934.3H813V932.5H809ZM814.7 934.3H819V891.1H814.7ZM819.8 934.3H823.5V886.1H819.8ZM825.5 934.3H830.3V750.4H825.5ZM832.3 934.3H836.1V923H832.3ZM838.6 934.3H842.4V932.5H838.6ZM843.1 934.3H847.4V805H843.1ZM849.2 934.3H853.7V914.2H849.2ZM855.4 934.3H860V840.1H855.4ZM861.2 934.3H865.7V823.8H861.2ZM866.2 934.3H870.8V745.4H866.2ZM872.5 934.3H876.8V821.8H872.5ZM878.8 934.3H883.1V872H878.8ZM885.1 934.3H889.4V925.5H885.1ZM890.1 934.3H893.9V873.5H890.1ZM895.9 934.3H900.2V859H895.9ZM901.9 934.3H906.4V835.1H901.9ZM908.2 934.3H912.7V848.9H908.2ZM913.2 934.3H917.8V782.3H913.2ZM919 934.3H923.5V875.3H919ZM925.3 934.3H929.8V875.3H925.3ZM931.6 934.3H935.8V868.5H931.6ZM936.6 934.3H940.4V871H936.6ZM942.4 934.3H946.6V891.1H942.4ZM948.7 934.3H952.9V868.5H948.7ZM954.2 934.3H958.5V874.5H954.2ZM960.5 934.3H964.5V932.5H960.5ZM966 934.3H970.6V921.3H966ZM972.1 934.3H977.1V919.8H972.1ZM977.6 934.3H982.1V857H977.6ZM983.1 934.3H987.6V908.7H983.1ZM989.6 934.3H993.9V910.5H989.6ZM995.7 934.3H1000.2V922.3H995.7ZM1000.7 934.3H1005.2V919.8H1000.7ZM1024.1 934.3H1028.3V918H1024.1ZM1029.8 934.3H1034.6V900.4H1029.8ZM1042.4 934.3H1046.7V931.7H1042.4ZM1070.6 934.3H1075.1V923H1070.6ZM1100.2 934.3H1105V924.3H1100.2ZM1117.5 934.3H1122.1V901.7H1117.5ZM1123.8 934.3H1128.3V819.3H1123.8ZM1130.1 934.3H1134.6V813.2H1130.1ZM1135.1 934.3H1139.1V900.4H1135.1ZM1140.9 934.3H1145.9V821.8H1140.9ZM1147.2 934.3H1151.7V841.4H1147.2ZM1153 934.3H1158V773H1153ZM1158.5 934.3H1163V845.2H1158.5ZM1164.8 934.3H1169V861.5H1164.8ZM1171.1 934.3H1175.3V845.9H1171.1ZM1176.6 934.3H1181.1V830.1H1176.6Z"/>
<path fill="none" stroke="#4a8a1e" stroke-width="1.4" d="M475.05 737.96L478.35 706.64M480.23 684.72L484.87 614.38M487.01 614.31L489.89 636.49M499.35 637.37L500.35 642.13M503.89 663.82L507.11 690.98M527.12 667.55L529.68 682.75M579.1 682.72L581.9 663.78M585.66 663.68L587.14 671.02M642.26 728.7L645.64 753.8M689.98 776.67L690.42 778.43M706.22 795.59L708.28 806.01M711.9 827.7L714.2 844.3M730.01 869.49L731.59 861.01M741.95 873.4L742.55 875.9M769.01 861.82L773.09 799.08M774.95 777.16L778.45 743.74M798.11 720.4L801.19 742.5M804.16 764.3L807.04 785.8M810.01 785.8L812.69 766.4M815.63 744.59L818.37 723.61M845.2 721.92L847.1 709.08M862.79 712.7L864.11 719.5M897.5 747.83L898.5 752.27M909.05 766.18L909.35 767.42M978 819.93L979 824.37M1024.55 828.13L1025.05 825.77M1046.99 830.8L1048.41 838.1M1063.96 881.08L1065.34 887.92M1069.22 887.84L1071.88 871.06M1074.69 849.25L1078.21 814.15M1081.43 792.41L1082.77 785.59M1086.65 763.94L1088.95 749.76M1092.14 727.99L1095.46 702.81M1110.21 640.88L1111.79 632.32M1122.52 629.01L1123.28 632.19M1162.35 711.01L1163.95 719.49M1167.35 741.22L1170.45 766.38"/>
<path fill="#4a8a1e" d="M473.9 744.6L478.2 748.9L473.9 753.2L469.6 748.9ZM479.5 691.4L483.8 695.7L479.5 700L475.2 695.7ZM485.6 599.1L489.9 603.4L485.6 607.7L481.3 603.4ZM491.3 643.1L495.6 647.4L491.3 651.7L487 647.4ZM497.1 622.3L501.4 626.6L497.1 630.9L492.8 626.6ZM502.6 648.6L506.9 652.9L502.6 657.2L498.3 652.9ZM508.4 697.6L512.7 701.9L508.4 706.2L504.1 701.9ZM514 684.3L518.3 688.6L514 692.9L509.7 688.6ZM519.7 663.7L524 668L519.7 672.3L515.4 668ZM525.3 652.4L529.6 656.7L525.3 661L521 656.7ZM531.5 689.3L535.8 693.6L531.5 697.9L527.2 693.6ZM537.3 671.3L541.6 675.6L537.3 679.9L533 675.6ZM542.8 676.8L547.1 681.1L542.8 685.4L538.5 681.1ZM549.1 686.8L553.4 691.1L549.1 695.4L544.8 691.1ZM554.9 695.1L559.2 699.4L554.9 703.7L550.6 699.4ZM560.4 712.7L564.7 717L560.4 721.3L556.1 717ZM566.2 719.5L570.5 723.8L566.2 728.1L561.9 723.8ZM572.2 711L576.5 715.3L572.2 719.6L567.9 715.3ZM577.5 689.3L581.8 693.6L577.5 697.9L573.2 693.6ZM583.5 648.6L587.8 652.9L583.5 657.2L579.2 652.9ZM589.3 677.5L593.6 681.8L589.3 686.1L585 681.8ZM595.1 681.8L599.4 686.1L595.1 690.4L590.8 686.1ZM600.6 668.7L604.9 673L600.6 677.3L596.3 673ZM606.2 685.8L610.5 690.1L606.2 694.4L601.9 690.1ZM612.4 684.3L616.7 688.6L612.4 692.9L608.1 688.6ZM618.2 701.9L622.5 706.2L618.2 710.5L613.9 706.2ZM624 708.4L628.3 712.7L624 717L619.7 712.7ZM630 709.4L634.3 713.7L630 718L625.7 713.7ZM635.3 698.9L639.6 703.2L635.3 707.5L631 703.2ZM640.8 713.5L645.1 717.8L640.8 722.1L636.5 717.8ZM647.1 760.4L651.4 764.7L647.1 769L642.8 764.7ZM652.6 752.2L656.9 756.5L652.6 760.8L648.3 756.5ZM658.4 763.7L662.7 768L658.4 772.3L654.1 768ZM664.7 782.3L669 786.6L664.7 790.9L660.4 786.6ZM670.5 777.3L674.8 781.6L670.5 785.9L666.2 781.6ZM676 781.8L680.3 786.1L676 790.4L671.7 786.1ZM681.5 772.3L685.8 776.6L681.5 780.9L677.2 776.6ZM687.3 761.7L691.6 766L687.3 770.3L683 766ZM693.1 784.8L697.4 789.1L693.1 793.4L688.8 789.1ZM698.6 786.8L702.9 791.1L698.6 795.4L694.3 791.1ZM704.1 780.5L708.4 784.8L704.1 789.1L699.8 784.8ZM710.4 812.5L714.7 816.8L710.4 821.1L706.1 816.8ZM715.7 850.9L720 855.2L715.7 859.5L711.4 855.2ZM721.9 861.7L726.2 866L721.9 870.3L717.6 866ZM728 876L732.3 880.3L728 884.6L723.7 880.3ZM733.6 845.9L737.9 850.2L733.6 854.5L729.3 850.2ZM739.4 858.4L743.7 862.7L739.4 867L735.1 862.7ZM745.1 882.3L749.4 886.6L745.1 890.9L740.8 886.6ZM750.7 873.5L755 877.8L750.7 882.1L746.4 877.8ZM756.4 878.5L760.7 882.8L756.4 887.1L752.1 882.8ZM762.7 870.2L767 874.5L762.7 878.8L758.4 874.5ZM768.3 868.5L772.6 872.8L768.3 877.1L764 872.8ZM773.8 783.8L778.1 788.1L773.8 792.4L769.5 788.1ZM779.6 728.5L783.9 732.8L779.6 737.1L775.3 732.8ZM785.3 712L789.6 716.3L785.3 720.6L781 716.3ZM790.9 696.4L795.2 700.7L790.9 705L786.6 700.7ZM796.6 705.2L800.9 709.5L796.6 713.8L792.3 709.5ZM802.7 749.1L807 753.4L802.7 757.7L798.4 753.4ZM808.5 792.4L812.8 796.7L808.5 801L804.2 796.7ZM814.2 751.2L818.5 755.5L814.2 759.8L809.9 755.5ZM819.8 708.4L824.1 712.7L819.8 717L815.5 712.7ZM825.5 716.5L829.8 720.8L825.5 725.1L821.2 720.8ZM831.6 719L835.9 723.3L831.6 727.6L827.3 723.3ZM837.8 729L842.1 733.3L837.8 737.6L833.5 733.3ZM843.6 728.5L847.9 732.8L843.6 737.1L839.3 732.8ZM848.7 693.9L853 698.2L848.7 702.5L844.4 698.2ZM854.9 695.1L859.2 699.4L854.9 703.7L850.6 699.4ZM860.7 697.6L865 701.9L860.7 706.2L856.4 701.9ZM866.2 726L870.5 730.3L866.2 734.6L861.9 730.3ZM872 719L876.3 723.3L872 727.6L867.7 723.3ZM878 727L882.3 731.3L878 735.6L873.7 731.3ZM883.8 725.3L888.1 729.6L883.8 733.9L879.5 729.6ZM889.6 734.6L893.9 738.9L889.6 743.2L885.3 738.9ZM895.1 732.8L899.4 737.1L895.1 741.4L890.8 737.1ZM900.9 758.7L905.2 763L900.9 767.3L896.6 763ZM906.4 751.2L910.7 755.5L906.4 759.8L902.1 755.5ZM912 773.8L916.3 778.1L912 782.4L907.7 778.1ZM917.8 765.5L922.1 769.8L917.8 774.1L913.5 769.8ZM923.5 759.7L927.8 764L923.5 768.3L919.2 764ZM929.6 774.8L933.9 779.1L929.6 783.4L925.3 779.1ZM935.3 788.1L939.6 792.4L935.3 796.7L931 792.4ZM940.9 776.3L945.2 780.6L940.9 784.9L936.6 780.6ZM946.6 792.4L950.9 796.7L946.6 801L942.3 796.7ZM952.9 810.7L957.2 815L952.9 819.3L948.6 815ZM958.5 798.1L962.8 802.4L958.5 806.7L954.2 802.4ZM964 807.5L968.3 811.8L964 816.1L959.7 811.8ZM970 815.7L974.3 820L970 824.3L965.7 820ZM975.6 804.9L979.9 809.2L975.6 813.5L971.3 809.2ZM981.4 830.8L985.7 835.1L981.4 839.4L977.1 835.1ZM987.1 834.6L991.4 838.9L987.1 843.2L982.8 838.9ZM992.7 824L997 828.3L992.7 832.6L988.4 828.3ZM998.9 812L1003.2 816.3L998.9 820.6L994.6 816.3ZM1004.7 806.4L1009 810.7L1004.7 815L1000.4 810.7ZM1010.3 826.5L1014.6 830.8L1010.3 835.1L1006 830.8ZM1016.5 829L1020.8 833.3L1016.5 837.6L1012.2 833.3ZM1022.3 834.6L1026.6 838.9L1022.3 843.2L1018 838.9ZM1027.3 810.7L1031.6 815L1027.3 819.3L1023 815ZM1033.4 824.5L1037.7 828.8L1033.4 833.1L1029.1 828.8ZM1039.1 822L1043.4 826.3L1039.1 830.6L1034.8 826.3ZM1044.9 815.7L1049.2 820L1044.9 824.3L1040.6 820ZM1050.5 844.6L1054.8 848.9L1050.5 853.2L1046.2 848.9ZM1056 860.2L1060.3 864.5L1056 868.8L1051.7 864.5ZM1061.8 866L1066.1 870.3L1061.8 874.6L1057.5 870.3ZM1067.5 894.4L1071.8 898.7L1067.5 903L1063.2 898.7ZM1073.6 855.9L1077.9 860.2L1073.6 864.5L1069.3 860.2ZM1079.3 798.9L1083.6 803.2L1079.3 807.5L1075 803.2ZM1084.9 770.5L1089.2 774.8L1084.9 779.1L1080.6 774.8ZM1090.7 734.6L1095 738.9L1090.7 743.2L1086.4 738.9ZM1096.9 687.6L1101.2 691.9L1096.9 696.2L1092.6 691.9ZM1102.7 667.5L1107 671.8L1102.7 676.1L1098.4 671.8ZM1108.2 647.4L1112.5 651.7L1108.2 656L1103.9 651.7ZM1113.8 617.2L1118.1 621.5L1113.8 625.8L1109.5 621.5ZM1120 614L1124.3 618.3L1120 622.6L1115.7 618.3ZM1125.8 638.6L1130.1 642.9L1125.8 647.2L1121.5 642.9ZM1131.6 654.9L1135.9 659.2L1131.6 663.5L1127.3 659.2ZM1137.1 671.3L1141.4 675.6L1137.1 679.9L1132.8 675.6ZM1142.9 670.8L1147.2 675.1L1142.9 679.4L1138.6 675.1ZM1148.4 683.8L1152.7 688.1L1148.4 692.4L1144.1 688.1ZM1154.2 695.1L1158.5 699.4L1154.2 703.7L1149.9 699.4ZM1160.3 695.9L1164.6 700.2L1160.3 704.5L1156 700.2ZM1166 726L1170.3 730.3L1166 734.6L1161.7 730.3ZM1171.8 773L1176.1 777.3L1171.8 781.6L1167.5 777.3Z"/>
<path fill="none" stroke="#dd0a0a" stroke-width="1.4" d="M474.88 713.61L477.12 731.19M498.88 737.82L499.42 740.18M526.7 760.61L528.9 777.69M538.11 781.4L540.09 795.8M573.26 810.99L574.74 803.21M578.08 781.48L581.22 754.82M584.32 754.75L586.28 766.45M600.84 780.71L603.76 802.79M642.44 824.95L643.56 830.15M648.25 830.15L649.75 823.25M671.63 800.37L673.37 790.63M682.08 753.75L685.52 718.65M687.76 718.64L691.14 750.56M695.12 750.87L695.28 750.23M704.73 729.96L708.07 697.84M712.22 676.32L712.48 675.38M716.69 675.74L719.81 704.36M723.47 704.58L724.33 700.82M728.63 679.25L730.47 668.35M733.78 668.4L736.62 689.3M745.15 724.67L748.65 775.63M751.29 775.76L753.81 761.24M761.95 729.43L766.25 666.47M768.93 666.33L770.87 677.27M774.5 698.97L776.6 712.43M780.58 712.54L782.32 704.36M791.29 711.66L795.01 757.54M802.25 739.91L806.65 651.39M809.16 651.22L811.04 661.68M814.2 683.43L817.3 711.87M821.34 733.43L821.96 735.77M838.82 751.67L840.18 758.23M844.75 779.75L845.55 783.35M913.97 824.42L914.53 826.88M942.4 849.11L942.9 851.29M1005.06 835.56L1007.14 823.34M1016.65 815.46L1018.45 804.94M1034.48 800.81L1036.32 788.19M1051.39 774.87L1053.81 790.33M1056.46 790.24L1060.04 749.36M1061.95 727.44L1065.85 682.76M1079.35 681.97L1083.65 745.03M1091.04 745.53L1094.86 695.27M1097.86 695.08L1099.34 702.42M1115.62 710.03L1115.98 711.37M1120.28 732.9L1123.12 753.8M1166.43 816.58L1168.97 833.52"/>
<path fill="none" stroke="#dd0a0a" stroke-width="1.3" d="M466.7 702.7H480.3M473.5 695.9V709.5M468.7 697.9L478.3 707.5M468.7 707.5L478.3 697.9M471.7 742.1H485.3M478.5 735.3V748.9M473.7 737.3L483.3 746.9M473.7 746.9L483.3 737.3M477.2 725.8H490.8M484 719V732.6M479.2 721L488.8 730.6M479.2 730.6L488.8 721M483.3 735.9H496.9M490.1 729.1V742.7M485.3 731.1L494.9 740.7M485.3 740.7L494.9 731.1M489.6 727.1H503.2M496.4 720.3V733.9M491.6 722.3L501.2 731.9M491.6 731.9L501.2 722.3M495.1 750.9H508.7M501.9 744.1V757.7M497.1 746.1L506.7 755.7M497.1 755.7L506.7 746.1M500.9 738.4H514.5M507.7 731.6V745.2M502.9 733.6L512.5 743.2M502.9 743.2L512.5 733.6M507.1 745.4H520.7M513.9 738.6V752.2M509.1 740.6L518.7 750.2M509.1 750.2L518.7 740.6M512.9 750.9H526.5M519.7 744.1V757.7M514.9 746.1L524.5 755.7M514.9 755.7L524.5 746.1M518.5 749.7H532.1M525.3 742.9V756.5M520.5 744.9L530.1 754.5M520.5 754.5L530.1 744.9M523.5 788.6H537.1M530.3 781.8V795.4M525.5 783.8L535.1 793.4M525.5 793.4L535.1 783.8M529.8 770.5H543.4M536.6 763.7V777.3M531.8 765.7L541.4 775.3M531.8 775.3L541.4 765.7M534.8 806.7H548.4M541.6 799.9V813.5M536.8 801.9L546.4 811.5M536.8 811.5L546.4 801.9M540.6 813.2H554.2M547.4 806.4V820M542.6 808.4L552.2 818M542.6 818L552.2 808.4M546.1 822.5H559.7M552.9 815.7V829.3M548.1 817.7L557.7 827.3M548.1 827.3L557.7 817.7M552.4 819.3H566M559.2 812.5V826.1M554.4 814.5L564 824.1M554.4 824.1L564 814.5M558.2 823.3H571.8M565 816.5V830.1M560.2 818.5L569.8 828.1M560.2 828.1L569.8 818.5M564.4 821.8H578M571.2 815V828.6M566.4 817L576 826.6M566.4 826.6L576 817M570 792.4H583.6M576.8 785.6V799.2M572 787.6L581.6 797.2M572 797.2L581.6 787.6M575.7 743.9H589.3M582.5 737.1V750.7M577.7 739.1L587.3 748.7M577.7 748.7L587.3 739.1M581.3 777.3H594.9M588.1 770.5V784.1M583.3 772.5L592.9 782.1M583.3 782.1L592.9 772.5M587 789.1H600.6M593.8 782.3V795.9M589 784.3L598.6 793.9M589 793.9L598.6 784.3M592.6 769.8H606.2M599.4 763V776.6M594.6 765L604.2 774.6M594.6 774.6L604.2 765M598.4 813.7H612M605.2 806.9V820.5M600.4 808.9L610 818.5M600.4 818.5L610 808.9M603.9 818.8H617.5M610.7 812V825.6M605.9 814L615.5 823.6M605.9 823.6L615.5 814M610.2 822.5H623.8M617 815.7V829.3M612.2 817.7L621.8 827.3M612.2 827.3L621.8 817.7M615.9 813.7H629.5M622.7 806.9V820.5M617.9 808.9L627.5 818.5M617.9 818.5L627.5 808.9M621.5 828.8H635.1M628.3 822V835.6M623.5 824L633.1 833.6M623.5 833.6L633.1 824M627.7 823.8H641.3M634.5 817V830.6M629.7 819L639.3 828.6M629.7 828.6L639.3 819M633.3 814.2H646.9M640.1 807.4V821M635.3 809.4L644.9 819M635.3 819L644.9 809.4M639.1 840.9H652.7M645.9 834.1V847.7M641.1 836.1L650.7 845.7M641.1 845.7L650.7 836.1M645.3 812.5H658.9M652.1 805.7V819.3M647.3 807.7L656.9 817.3M647.3 817.3L656.9 807.7M651.6 808.2H665.2M658.4 801.4V815M653.6 803.4L663.2 813M653.6 813L663.2 803.4M657.1 810.7H670.7M663.9 803.9V817.5M659.1 805.9L668.7 815.5M659.1 815.5L668.7 805.9M662.9 811.2H676.5M669.7 804.4V818M664.9 806.4L674.5 816M664.9 816L674.5 806.4M668.5 779.8H682.1M675.3 773V786.6M670.5 775L680.1 784.6M670.5 784.6L680.1 775M674.2 764.7H687.8M681 757.9V771.5M676.2 759.9L685.8 769.5M676.2 769.5L685.8 759.9M679.8 707.7H693.4M686.6 700.9V714.5M681.8 702.9L691.4 712.5M681.8 712.5L691.4 702.9M685.5 761.5H699.1M692.3 754.7V768.3M687.5 756.7L697.1 766.3M687.5 766.3L697.1 756.7M691.3 739.6H704.9M698.1 732.8V746.4M693.3 734.8L702.9 744.4M693.3 744.4L702.9 734.8M696.8 740.9H710.4M703.6 734.1V747.7M698.8 736.1L708.4 745.7M698.8 745.7L708.4 736.1M702.4 686.9H716M709.2 680.1V693.7M704.4 682.1L714 691.7M704.4 691.7L714 682.1M708.7 664.8H722.3M715.5 658V671.6M710.7 660L720.3 669.6M710.7 669.6L720.3 660M714.2 715.3H727.8M721 708.5V722.1M716.2 710.5L725.8 720.1M716.2 720.1L725.8 710.5M720 690.1H733.6M726.8 683.3V696.9M722 685.3L731.6 694.9M722 694.9L731.6 685.3M725.5 657.5H739.1M732.3 650.7V664.3M727.5 652.7L737.1 662.3M727.5 662.3L737.1 652.7M731.3 700.2H744.9M738.1 693.4V707M733.3 695.4L742.9 705M733.3 705L742.9 695.4M737.6 713.7H751.2M744.4 706.9V720.5M739.6 708.9L749.2 718.5M739.6 718.5L749.2 708.9M742.6 786.6H756.2M749.4 779.8V793.4M744.6 781.8L754.2 791.4M744.6 791.4L754.2 781.8M748.9 750.4H762.5M755.7 743.6V757.2M750.9 745.6L760.5 755.2M750.9 755.2L760.5 745.6M754.4 740.4H768M761.2 733.6V747.2M756.4 735.6L766 745.2M756.4 745.2L766 735.6M760.2 655.5H773.8M767 648.7V662.3M762.2 650.7L771.8 660.3M762.2 660.3L771.8 650.7M766 688.1H779.6M772.8 681.3V694.9M768 683.3L777.6 692.9M768 692.9L777.6 683.3M771.5 723.3H785.1M778.3 716.5V730.1M773.5 718.5L783.1 728.1M773.5 728.1L783.1 718.5M777.8 693.6H791.4M784.6 686.8V700.4M779.8 688.8L789.4 698.4M779.8 698.4L789.4 688.8M783.6 700.7H797.2M790.4 693.9V707.5M785.6 695.9L795.2 705.5M785.6 705.5L795.2 695.9M789.1 768.5H802.7M795.9 761.7V775.3M791.1 763.7L800.7 773.3M791.1 773.3L800.7 763.7M794.9 750.9H808.5M801.7 744.1V757.7M796.9 746.1L806.5 755.7M796.9 755.7L806.5 746.1M800.4 640.4H814M807.2 633.6V647.2M802.4 635.6L812 645.2M802.4 645.2L812 635.6M806.2 672.5H819.8M813 665.7V679.3M808.2 667.7L817.8 677.3M808.2 677.3L817.8 667.7M811.7 722.8H825.3M818.5 716V729.6M813.7 718L823.3 727.6M813.7 727.6L823.3 718M818 746.4H831.6M824.8 739.6V753.2M820 741.6L829.6 751.2M820 751.2L829.6 741.6M824.3 743.9H837.9M831.1 737.1V750.7M826.3 739.1L835.9 748.7M826.3 748.7L835.9 739.1M829.8 740.9H843.4M836.6 734.1V747.7M831.8 736.1L841.4 745.7M831.8 745.7L841.4 736.1M835.6 769H849.2M842.4 762.2V775.8M837.6 764.2L847.2 773.8M837.6 773.8L847.2 764.2M841.1 794.1H854.7M847.9 787.3V800.9M843.1 789.3L852.7 798.9M843.1 798.9L852.7 789.3M846.9 784.1H860.5M853.7 777.3V790.9M848.9 779.3L858.5 788.9M848.9 788.9L858.5 779.3M852.4 801.7H866M859.2 794.9V808.5M854.4 796.9L864 806.5M854.4 806.5L864 796.9M858.2 818.3H871.8M865 811.5V825.1M860.2 813.5L869.8 823.1M860.2 823.1L869.8 813.5M863.7 812.5H877.3M870.5 805.7V819.3M865.7 807.7L875.3 817.3M865.7 817.3L875.3 807.7M869.5 796.2H883.1M876.3 789.4V803M871.5 791.4L881.1 801M871.5 801L881.1 791.4M875.8 812.5H889.4M882.6 805.7V819.3M877.8 807.7L887.4 817.3M877.8 817.3L887.4 807.7M881.3 801.2H894.9M888.1 794.4V808M883.3 796.4L892.9 806M883.3 806L892.9 796.4M887.1 805.7H900.7M893.9 798.9V812.5M889.1 800.9L898.7 810.5M889.1 810.5L898.7 800.9M892.6 814.2H906.2M899.4 807.4V821M894.6 809.4L904.2 819M894.6 819L904.2 809.4M898.4 818.3H912M905.2 811.5V825.1M900.4 813.5L910 823.1M900.4 823.1L910 813.5M904.7 813.7H918.3M911.5 806.9V820.5M906.7 808.9L916.3 818.5M906.7 818.5L916.3 808.9M910.2 837.6H923.8M917 830.8V844.4M912.2 832.8L921.8 842.4M912.2 842.4L921.8 832.8M916 822.5H929.6M922.8 815.7V829.3M918 817.7L927.6 827.3M918 827.3L927.6 817.7M921.5 826.8H935.1M928.3 820V833.6M923.5 822L933.1 831.6M923.5 831.6L933.1 822M927.3 831.8H940.9M934.1 825V838.6M929.3 827L938.9 836.6M929.3 836.6L938.9 827M933.1 838.4H946.7M939.9 831.6V845.2M935.1 833.6L944.7 843.2M935.1 843.2L944.7 833.6M938.6 862H952.2M945.4 855.2V868.8M940.6 857.2L950.2 866.8M940.6 866.8L950.2 857.2M944.4 862.7H958M951.2 855.9V869.5M946.4 857.9L956 867.5M946.4 867.5L956 857.9M950.4 857H964M957.2 850.2V863.8M952.4 852.2L962 861.8M952.4 861.8L962 852.2M956.6 857.7H970.2M963.4 850.9V864.5M958.6 852.9L968.2 862.5M958.6 862.5L968.2 852.9M961.2 844.8H974.8M968 838V851.6M963.2 840L972.8 849.6M963.2 849.6L972.8 840M968.3 843.4H981.9M975.1 836.6V850.2M970.3 838.6L979.9 848.2M970.3 848.2L979.9 838.6M973.8 851.4H987.4M980.6 844.6V858.2M975.8 846.6L985.4 856.2M975.8 856.2L985.4 846.6M979.6 845.9H993.2M986.4 839.1V852.7M981.6 841.1L991.2 850.7M981.6 850.7L991.2 841.1M985.4 840.9H999M992.2 834.1V847.7M987.4 836.1L997 845.7M987.4 845.7L997 836.1M990.9 831.8H1004.5M997.7 825V838.6M992.9 827L1002.5 836.6M992.9 836.6L1002.5 827M996.4 846.4H1010M1003.2 839.6V853.2M998.4 841.6L1008 851.2M998.4 851.2L1008 841.6M1002.2 812.5H1015.8M1009 805.7V819.3M1004.2 807.7L1013.8 817.3M1004.2 817.3L1013.8 807.7M1008 826.3H1021.6M1014.8 819.5V833.1M1010 821.5L1019.6 831.1M1010 831.1L1019.6 821.5M1013.5 794.1H1027.1M1020.3 787.3V800.9M1015.5 789.3L1025.1 798.9M1015.5 798.9L1025.1 789.3M1019 799.9H1032.6M1025.8 793.1V806.7M1021 795.1L1030.6 804.7M1021 804.7L1030.6 795.1M1026.1 811.7H1039.7M1032.9 804.9V818.5M1028.1 806.9L1037.7 816.5M1028.1 816.5L1037.7 806.9M1031.1 777.3H1044.7M1037.9 770.5V784.1M1033.1 772.5L1042.7 782.1M1033.1 782.1L1042.7 772.5M1036.9 778.1H1050.5M1043.7 771.3V784.9M1038.9 773.3L1048.5 782.9M1038.9 782.9L1048.5 773.3M1042.9 764H1056.5M1049.7 757.2V770.8M1044.9 759.2L1054.5 768.8M1044.9 768.8L1054.5 759.2M1048.7 801.2H1062.3M1055.5 794.4V808M1050.7 796.4L1060.3 806M1050.7 806L1060.3 796.4M1054.2 738.4H1067.8M1061 731.6V745.2M1056.2 733.6L1065.8 743.2M1056.2 743.2L1065.8 733.6M1060 671.8H1073.6M1066.8 665V678.6M1062 667L1071.6 676.6M1062 676.6L1071.6 667M1065.8 656H1079.4M1072.6 649.2V662.8M1067.8 651.2L1077.4 660.8M1067.8 660.8L1077.4 651.2M1071.8 671H1085.4M1078.6 664.2V677.8M1073.8 666.2L1083.4 675.8M1073.8 675.8L1083.4 666.2M1077.6 756H1091.2M1084.4 749.2V762.8M1079.6 751.2L1089.2 760.8M1079.6 760.8L1089.2 751.2M1083.4 756.5H1097M1090.2 749.7V763.3M1085.4 751.7L1095 761.3M1085.4 761.3L1095 751.7M1088.9 684.3H1102.5M1095.7 677.5V691.1M1090.9 679.5L1100.5 689.1M1090.9 689.1L1100.5 679.5M1094.7 713.2H1108.3M1101.5 706.4V720M1096.7 708.4L1106.3 718M1096.7 718L1106.3 708.4M1100.2 700.7H1113.8M1107 693.9V707.5M1102.2 695.9L1111.8 705.5M1102.2 705.5L1111.8 695.9M1106 699.4H1119.6M1112.8 692.6V706.2M1108 694.6L1117.6 704.2M1108 704.2L1117.6 694.6M1112 722H1125.6M1118.8 715.2V728.8M1114 717.2L1123.6 726.8M1114 726.8L1123.6 717.2M1117.8 764.7H1131.4M1124.6 757.9V771.5M1119.8 759.9L1129.4 769.5M1119.8 769.5L1129.4 759.9M1123.6 769.8H1137.2M1130.4 763V776.6M1125.6 765L1135.2 774.6M1125.6 774.6L1135.2 765M1129.1 774.8H1142.7M1135.9 768V781.6M1131.1 770L1140.7 779.6M1131.1 779.6L1140.7 770M1134.6 790.6H1148.2M1141.4 783.8V797.4M1136.6 785.8L1146.2 795.4M1136.6 795.4L1146.2 785.8M1140.4 790.6H1154M1147.2 783.8V797.4M1142.4 785.8L1152 795.4M1142.4 795.4L1152 785.8M1146.7 805H1160.3M1153.5 798.2V811.8M1148.7 800.2L1158.3 809.8M1148.7 809.8L1158.3 800.2M1152.2 785.6H1165.8M1159 778.8V792.4M1154.2 780.8L1163.8 790.4M1154.2 790.4L1163.8 780.8M1158 805.7H1171.6M1164.8 798.9V812.5M1160 800.9L1169.6 810.5M1160 810.5L1169.6 800.9M1163.8 844.4H1177.4M1170.6 837.6V851.2M1165.8 839.6L1175.4 849.2M1165.8 849.2L1175.4 839.6"/>
<rect x="237.4" y="571.2" width="970.8" height="365.3" fill="none" stroke="#1a1a1a" stroke-width="1.6"/>
<path stroke="#444" stroke-width="1.6" d="M273.5 936.5V949.3M299.09 936.5V949.3M324.69 936.5V949.3M350.28 936.5V949.3M375.88 936.5V949.3M401.47 936.5V949.3M427.06 936.5V949.3M452.66 936.5V949.3M478.25 936.5V949.3M503.85 936.5V949.3M529.44 936.5V949.3M555.03 936.5V949.3M580.63 936.5V949.3M606.22 936.5V949.3M631.82 936.5V949.3M657.41 936.5V949.3M683 936.5V949.3M708.6 936.5V949.3M734.19 936.5V949.3M759.79 936.5V949.3M785.38 936.5V949.3M810.97 936.5V949.3M836.57 936.5V949.3M862.16 936.5V949.3M887.76 936.5V949.3M913.35 936.5V949.3M938.94 936.5V949.3M964.54 936.5V949.3M990.13 936.5V949.3M1015.73 936.5V949.3M1041.32 936.5V949.3M1066.91 936.5V949.3M1092.51 936.5V949.3M1118.1 936.5V949.3M1143.7 936.5V949.3M1169.29 936.5V949.3"/>
<path stroke="#1a1a1a" stroke-width="1.5" d="M224.3 584.5H237.4M224.3 652.3H237.4M224.3 720.1H237.4M224.3 787.9H237.4M224.3 855.7H237.4M224.3 923.5H237.4"/>
<text transform="translate(207.96 691.15) rotate(-90) scale(0.9309 1)" font-size="33.52">0.352</text>
<text transform="translate(207.96 826.9) rotate(-90) scale(0.9309 1)" font-size="33.52">0.348</text>
<text transform="translate(207.96 962.66) rotate(-90) scale(0.9309 1)" font-size="33.52">0.344</text>
<path fill="none" stroke="#1a1a1a" stroke-width="1.5" d="M121.4 584.5V929.9M108.5 584.5H121.4M108.5 670.85H121.4M108.5 757.2H121.4M108.5 843.55H121.4M108.5 929.9H121.4"/>
<text transform="translate(92.26 624.94) rotate(-90) scale(0.9493 1)" font-size="34.08">0.370</text>
<text transform="translate(92.26 797.64) rotate(-90) scale(0.9493 1)" font-size="34.08">0.360</text>
<text transform="translate(92.26 970.34) rotate(-90) scale(0.9493 1)" font-size="34.08">0.350</text>
<text transform="translate(35.33 788.95) rotate(-90) scale(1.0052 1)" font-size="36.71">Rcc</text>
<text transform="translate(161.63 785.52) rotate(-90) scale(0.9811 1)" font-size="37.18">Gcc</text>
<path stroke="#1a1a1a" stroke-width="1.5" d="M1208.2 935.8H1220.7M1208.2 871.7H1220.7M1208.2 808H1220.7M1208.2 744.3H1220.7M1208.2 680.7H1220.7M1208.2 616.7H1220.7"/>
<text transform="translate(1251.46 944.68) rotate(-90) scale(0.9546 1)" font-size="33.52">0</text>
<text transform="translate(1251.46 880.58) rotate(-90) scale(0.9546 1)" font-size="33.52">2</text>
<text transform="translate(1251.46 816.8) rotate(-90) scale(0.9546 1)" font-size="33.52">4</text>
<text transform="translate(1251.46 753.26) rotate(-90) scale(0.9546 1)" font-size="33.52">6</text>
<text transform="translate(1251.46 689.66) rotate(-90) scale(0.9546 1)" font-size="33.52">8</text>
<text transform="translate(1251.46 635.02) rotate(-90) scale(0.9546 1)" font-size="33.52">10</text>
<text transform="translate(1299.8 951.78) rotate(-90) scale(0.9840 1)" font-size="36.2">GPP</text><text transform="translate(1299.8 869.43) rotate(-90) scale(1.3030 1)" font-size="36.2">(</text><text transform="translate(1299.8 854.1) rotate(-90) scale(1.0252 1)" font-size="36.2">µ</text><text transform="translate(1299.8 825.01) rotate(-90) scale(0.9836 1)" font-size="36.2">mol</text><text transform="translate(1299.8 757.99) rotate(-90) scale(0.9866 1)" font-size="36.2">CO</text><text transform="translate(1281.2 705.37) rotate(-90) scale(1.2571 1)" font-size="25">2</text><text transform="translate(1299.8 680.54) rotate(-90) scale(0.9077 1)" font-size="36.2">m</text><text transform="translate(1281.2 652.01) rotate(-90) scale(1.1308 1)" font-size="25">−2</text><text transform="translate(1299.8 614.29) rotate(-90) scale(0.9081 1)" font-size="36.2">s</text><text transform="translate(1281.2 596.91) rotate(-90) scale(0.8846 1)" font-size="25">−1</text><text transform="translate(1299.8 568.56) rotate(-90) scale(1.2643 1)" font-size="36.2">)</text>
<path fill="none" stroke="#1a1a1a" stroke-width="1.5" d="M1347.4 574.9V937.2M1347.4 574.9H1360.2M1347.4 695.7H1360.2M1347.4 816.5H1360.2M1347.4 937.2H1360.2"/>
<text transform="translate(1391.65 591.66) rotate(-90) scale(0.8679 1)" font-size="34.79">30</text>
<text transform="translate(1391.65 712.61) rotate(-90) scale(0.8679 1)" font-size="34.79">20</text>
<text transform="translate(1391.65 833.79) rotate(-90) scale(0.8679 1)" font-size="34.79">10</text>
<text transform="translate(1391.65 945.58) rotate(-90) scale(0.8679 1)" font-size="34.79">0</text>
<text transform="translate(1438.4 857) rotate(-90) scale(0.8893 1)" font-size="38">Rainfall (mm)</text>
<text transform="translate(0.39 521.2) scale(0.9514 1)" font-size="43.77" font-weight="bold">B</text>
<text transform="translate(306.17 527.89) scale(1.0484 1)" font-size="40.95" font-weight="normal">cerrado</text>
<rect x="450" y="1060.75" width="16.25" height="361.75" fill="#dddddd"/>
<rect x="751.75" y="1060.75" width="16.5" height="361.75" fill="#dddddd"/>
<rect x="1055.5" y="1060.75" width="17" height="361.75" fill="#dddddd"/>
<path fill="none" stroke="#333333" stroke-width="1.4" d="M269.71 1215.87L274.54 1246.63M282.24 1270.4L285.51 1294.35M287.6 1294.27L291.15 1229.98M292.7 1229.96L296.05 1268.54M299.56 1268.8L301.19 1261.95M311.32 1271.6L313.68 1285.65M316.95 1285.6L319.8 1264.15M322.87 1264.13L332.13 1326.12M335.33 1326.11L337.17 1313.39M347.61 1302.19L347.89 1303.31M351.61 1303.06L355.14 1268.44M358.69 1246.77L360.06 1240.73M363.17 1240.98L366.83 1301.52M369.36 1323.34L371.89 1338.16M381.38 1360.41L384.87 1388.09M387.51 1388.07L389.99 1366.68M394.29 1366.32L394.46 1366.93M398.64 1366.56L401.36 1340.44M410.4 1332.88L413.35 1352.37M416.46 1374.15L419.79 1399.1M422.63 1399.09L426.12 1371.66M428.76 1349.82L431.24 1328.43M434.94 1328.23L435.06 1328.77M439.66 1350.29L441.59 1359.96M445.68 1359.92L448.07 1346.58M458.03 1360.36L459.47 1369.14M461.89 1369.02L466.36 1291.73M468.09 1291.7L473.61 1347.3M475.43 1347.27L477.67 1313.48M485.97 1305.6L489.03 1282.9M491.65 1282.94L495.1 1315.56M498.12 1315.66L500.13 1304.09M509.13 1298.06L511.87 1271.69M514.4 1271.66L518.1 1300.59M520.7 1300.57L524.3 1267.93M527.34 1246.15L528.66 1238.35M531.54 1238.45L535.71 1282.3M550.86 1255.13L551.39 1253.12M555.79 1231.61L558.96 1209.14M561.41 1187.29L564.09 1154.96M567.69 1154.67L570.31 1165.08M573.39 1186.74L577.86 1311.51M579.91 1311.63L583.34 1289.12M585.42 1267.26L588.83 1179.24M589.9 1179.23L594.85 1262.27M607.68 1282.98L612.57 1361.52M613.95 1361.52L618.05 1297.48M619.53 1275.53L622.97 1227.47M625.66 1227.33L628.09 1241.17M631.35 1262.92L634.9 1291.58M649.23 1314.14L651.52 1299.86M654.13 1299.96L658.62 1355.54M660.21 1355.52L664.29 1292.48M666.34 1292.42L669.91 1321.58M678.12 1338.34L680.13 1349.91M683.89 1349.91L686.86 1332.84M696.19 1346.48L697.56 1352.52M707.6 1343.52L711.9 1264.23M713.11 1264.23L716.89 1332.27M719.8 1332.49L720.7 1328.26M724.29 1328.42L728.21 1361.58M730.98 1361.6L733.52 1342.9M737.62 1342.68L738.63 1346.82M753.83 1364.17L758.17 1399.83M765.34 1384.03L768.66 1340.47M777.95 1344.12L780.3 1359.13M782.54 1359.01L786.46 1279.24M788.8 1257.4L791.2 1242.85M794.85 1221.16L797.65 1204.84M801.6 1183.2L802.4 1179.05M806.61 1179.05L808.39 1188.2M813.62 1188.45L813.88 1187.55M817.89 1187.96L821.61 1234.04M823.36 1255.97L827.14 1304.03M829.92 1304.17L832.58 1289.08M836.13 1267.37L838.87 1249.13M847.1 1213.03L851.15 1160.97M852.73 1160.98L856.77 1221.52M864.77 1253.36L867.48 1269.89M893.79 1317.33L896.21 1296.67M916.7 1269.12L919.55 1287.38M923.25 1287.43L925.5 1275.32M928.82 1253.58L931.18 1234.17M933.33 1234.22L937.92 1294.78M945.61 1278.02L949.39 1209.23M950.78 1209.22L955.47 1274.78M997.99 1340.96L1002.76 1394.04M1005.33 1394.11L1006.42 1386.64M1013.37 1366.15L1016.63 1360.35M1051.17 1371.06L1054.33 1341.69M1068.18 1341.69L1071.82 1375.56M1074.27 1375.57L1077.48 1347.93M1079.98 1326.07L1083.27 1296.68M1092.95 1289.12L1095.3 1304.13M1098.97 1304.18L1100.03 1298.32M1103.21 1298.43L1106.79 1330.57M1110.88 1330.88L1111.62 1328.12M1115.53 1306.55L1118.22 1277.95M1119.94 1277.98L1124.81 1355.52M1125.91 1355.51L1131.34 1211.74M1132.65 1189.79L1135.85 1150.96M1137.54 1150.97L1141.71 1209.03M1142.97 1209.01L1148.28 1083.49M1149.64 1083.46L1153.36 1129.04M1155.4 1150.94L1158.85 1183.56M1161.01 1205.45L1165.24 1251.55M1167.74 1273.4L1169.76 1288.1M1173.11 1288.16L1175.64 1273.34"/>
<g fill="#333333"><circle cx="268" cy="1205" r="4.2"/><circle cx="276.25" cy="1257.5" r="4.2"/><circle cx="280.75" cy="1259.5" r="4.2"/><circle cx="287" cy="1305.25" r="4.2"/><circle cx="291.75" cy="1219" r="4.2"/><circle cx="297" cy="1279.5" r="4.2"/><circle cx="303.75" cy="1251.25" r="4.2"/><circle cx="309.5" cy="1260.75" r="4.2"/><circle cx="315.5" cy="1296.5" r="4.2"/><circle cx="321.25" cy="1253.25" r="4.2"/><circle cx="333.75" cy="1337" r="4.2"/><circle cx="338.75" cy="1302.5" r="4.2"/><circle cx="345" cy="1291.5" r="4.2"/><circle cx="350.5" cy="1314" r="4.2"/><circle cx="356.25" cy="1257.5" r="4.2"/><circle cx="362.5" cy="1230" r="4.2"/><circle cx="367.5" cy="1312.5" r="4.2"/><circle cx="373.75" cy="1349" r="4.2"/><circle cx="380" cy="1349.5" r="4.2"/><circle cx="386.25" cy="1399" r="4.2"/><circle cx="391.25" cy="1355.75" r="4.2"/><circle cx="397.5" cy="1377.5" r="4.2"/><circle cx="402.5" cy="1329.5" r="4.2"/><circle cx="408.75" cy="1322" r="4.2"/><circle cx="415" cy="1363.25" r="4.2"/><circle cx="421.25" cy="1410" r="4.2"/><circle cx="427.5" cy="1360.75" r="4.2"/><circle cx="432.5" cy="1317.5" r="4.2"/><circle cx="437.5" cy="1339.5" r="4.2"/><circle cx="443.75" cy="1370.75" r="4.2"/><circle cx="450" cy="1335.75" r="4.2"/><circle cx="456.25" cy="1349.5" r="4.2"/><circle cx="461.25" cy="1380" r="4.2"/><circle cx="467" cy="1280.75" r="4.2"/><circle cx="474.7" cy="1358.25" r="4.2"/><circle cx="478.4" cy="1302.5" r="4.2"/><circle cx="484.5" cy="1316.5" r="4.2"/><circle cx="490.5" cy="1272" r="4.2"/><circle cx="496.25" cy="1326.5" r="4.2"/><circle cx="502" cy="1293.25" r="4.2"/><circle cx="508" cy="1309" r="4.2"/><circle cx="513" cy="1260.75" r="4.2"/><circle cx="519.5" cy="1311.5" r="4.2"/><circle cx="525.5" cy="1257" r="4.2"/><circle cx="530.5" cy="1227.5" r="4.2"/><circle cx="536.75" cy="1293.25" r="4.2"/><circle cx="543" cy="1275.75" r="4.2"/><circle cx="548" cy="1265.75" r="4.2"/><circle cx="554.25" cy="1242.5" r="4.2"/><circle cx="560.5" cy="1198.25" r="4.2"/><circle cx="565" cy="1144" r="4.2"/><circle cx="573" cy="1175.75" r="4.2"/><circle cx="578.25" cy="1322.5" r="4.2"/><circle cx="585" cy="1278.25" r="4.2"/><circle cx="589.25" cy="1168.25" r="4.2"/><circle cx="595.5" cy="1273.25" r="4.2"/><circle cx="601.75" cy="1254.5" r="4.2"/><circle cx="607" cy="1272" r="4.2"/><circle cx="613.25" cy="1372.5" r="4.2"/><circle cx="618.75" cy="1286.5" r="4.2"/><circle cx="623.75" cy="1216.5" r="4.2"/><circle cx="630" cy="1252" r="4.2"/><circle cx="636.25" cy="1302.5" r="4.2"/><circle cx="641.25" cy="1306.5" r="4.2"/><circle cx="647.5" cy="1325" r="4.2"/><circle cx="653.25" cy="1289" r="4.2"/><circle cx="659.5" cy="1366.5" r="4.2"/><circle cx="665" cy="1281.5" r="4.2"/><circle cx="671.25" cy="1332.5" r="4.2"/><circle cx="676.25" cy="1327.5" r="4.2"/><circle cx="682" cy="1360.75" r="4.2"/><circle cx="688.75" cy="1322" r="4.2"/><circle cx="693.75" cy="1335.75" r="4.2"/><circle cx="700" cy="1363.25" r="4.2"/><circle cx="707" cy="1354.5" r="4.2"/><circle cx="712.5" cy="1253.25" r="4.2"/><circle cx="717.5" cy="1343.25" r="4.2"/><circle cx="723" cy="1317.5" r="4.2"/><circle cx="729.5" cy="1372.5" r="4.2"/><circle cx="735" cy="1332" r="4.2"/><circle cx="741.25" cy="1357.5" r="4.2"/><circle cx="747" cy="1370" r="4.2"/><circle cx="752.5" cy="1353.25" r="4.2"/><circle cx="759.5" cy="1410.75" r="4.2"/><circle cx="764.5" cy="1395" r="4.2"/><circle cx="769.5" cy="1329.5" r="4.2"/><circle cx="776.25" cy="1333.25" r="4.2"/><circle cx="782" cy="1370" r="4.2"/><circle cx="787" cy="1268.25" r="4.2"/><circle cx="793" cy="1232" r="4.2"/><circle cx="799.5" cy="1194" r="4.2"/><circle cx="804.5" cy="1168.25" r="4.2"/><circle cx="810.5" cy="1199" r="4.2"/><circle cx="817" cy="1177" r="4.2"/><circle cx="822.5" cy="1245" r="4.2"/><circle cx="828" cy="1315" r="4.2"/><circle cx="834.5" cy="1278.25" r="4.2"/><circle cx="840.5" cy="1238.25" r="4.2"/><circle cx="846.25" cy="1224" r="4.2"/><circle cx="852" cy="1150" r="4.2"/><circle cx="857.5" cy="1232.5" r="4.2"/><circle cx="863" cy="1242.5" r="4.2"/><circle cx="869.25" cy="1280.75" r="4.2"/><circle cx="875" cy="1299" r="4.2"/><circle cx="880.5" cy="1300" r="4.2"/><circle cx="886.25" cy="1317.5" r="4.2"/><circle cx="892.5" cy="1328.25" r="4.2"/><circle cx="897.5" cy="1285.75" r="4.2"/><circle cx="903.75" cy="1264.5" r="4.2"/><circle cx="910" cy="1254" r="4.2"/><circle cx="915" cy="1258.25" r="4.2"/><circle cx="921.25" cy="1298.25" r="4.2"/><circle cx="927.5" cy="1264.5" r="4.2"/><circle cx="932.5" cy="1223.25" r="4.2"/><circle cx="938.75" cy="1305.75" r="4.2"/><circle cx="945" cy="1289" r="4.2"/><circle cx="950" cy="1198.25" r="4.2"/><circle cx="956.25" cy="1285.75" r="4.2"/><circle cx="962.8" cy="1272" r="4.2"/><circle cx="968.4" cy="1285.75" r="4.2"/><circle cx="973.75" cy="1295" r="4.2"/><circle cx="980.5" cy="1315.75" r="4.2"/><circle cx="986.25" cy="1304" r="4.2"/><circle cx="991.25" cy="1315.75" r="4.2"/><circle cx="997" cy="1330" r="4.2"/><circle cx="1003.75" cy="1405" r="4.2"/><circle cx="1008" cy="1375.75" r="4.2"/><circle cx="1022" cy="1350.75" r="4.2"/><circle cx="1026.25" cy="1366.5" r="4.2"/><circle cx="1032" cy="1363.25" r="4.2"/><circle cx="1038" cy="1368.25" r="4.2"/><circle cx="1043.75" cy="1384" r="4.2"/><circle cx="1050" cy="1382" r="4.2"/><circle cx="1055.5" cy="1330.75" r="4.2"/><circle cx="1061.25" cy="1322.5" r="4.2"/><circle cx="1067" cy="1330.75" r="4.2"/><circle cx="1073" cy="1386.5" r="4.2"/><circle cx="1078.75" cy="1337" r="4.2"/><circle cx="1084.5" cy="1285.75" r="4.2"/><circle cx="1091.25" cy="1278.25" r="4.2"/><circle cx="1097" cy="1315" r="4.2"/><circle cx="1102" cy="1287.5" r="4.2"/><circle cx="1108" cy="1341.5" r="4.2"/><circle cx="1114.5" cy="1317.5" r="4.2"/><circle cx="1119.25" cy="1267" r="4.2"/><circle cx="1125.5" cy="1366.5" r="4.2"/><circle cx="1131.75" cy="1200.75" r="4.2"/><circle cx="1136.75" cy="1140" r="4.2"/><circle cx="1142.5" cy="1220" r="4.2"/><circle cx="1148.75" cy="1072.5" r="4.2"/><circle cx="1154.25" cy="1140" r="4.2"/><circle cx="1160" cy="1194.5" r="4.2"/><circle cx="1166.25" cy="1262.5" r="4.2"/><circle cx="1171.25" cy="1299" r="4.2"/><circle cx="1177.5" cy="1262.5" r="4.2"/></g>
<path fill="#aecfeb" d="M263.75 1421.5H268.25V1260H263.75ZM270 1421.5H274.5V1140.75H270ZM275.75 1421.5H280.5V1288.25H275.75ZM280.5 1421.5H285.5V1308.25H280.5ZM287 1421.5H291.75V1349H287ZM293.25 1421.5H297.5V1316.5H293.25ZM299.25 1421.5H303.75V1262H299.25ZM303.75 1421.5H308.75V1322H303.75ZM310.5 1421.5H315V1315H310.5ZM316.75 1421.5H321.25V1380H316.75ZM323 1421.5H327.5V1230.75H323ZM327.5 1421.5H332.5V1228.25H327.5ZM333.75 1421.5H338.75V1370H333.75ZM340 1421.5H344.5V1376.25H340ZM346.25 1421.5H350.75V1366.5H346.25ZM351.25 1421.5H355.75V1387H351.25ZM357.5 1421.5H361.75V1417H357.5ZM363.75 1421.5H368V1415.75H363.75ZM369.5 1421.5H373.75V1395.75H369.5ZM374.5 1421.5H379.5V1382H374.5ZM380.75 1421.5H385.5V1389H380.75ZM387 1421.5H391.75V1413.25H387ZM393 1421.5H396.5V1419H393ZM404.5 1421.5H408.5V1419H404.5ZM410.5 1421.5H415V1409H410.5ZM415.5 1421.5H420V1371.5H415.5ZM421.75 1421.5H426.25V1345.75H421.75ZM428 1421.5H432V1412H428ZM433.75 1421.5H438.25V1351.5H433.75ZM439 1421.5H443V1419H439ZM450.5 1421.5H455.5V1395.75H450.5ZM457 1421.5H461.75V1401.5H457ZM468 1421.5H472.5V1325.75H468ZM480.5 1421.5H485V1412.5H480.5ZM485.5 1421.5H490V1406.5H485.5ZM491.75 1421.5H496.25V1355H491.75ZM498 1421.5H502.5V1392H498ZM504.25 1421.5H508.75V1312.5H504.25ZM508.75 1421.5H513.75V1366.5H508.75ZM515 1421.5H519.5V1397H515ZM521.25 1421.5H525.75V1369H521.25ZM527 1421.5H531.25V1379.5H527ZM532.5 1421.5H537V1405H532.5ZM555.75 1421.5H560V1407.5H555.75ZM561.75 1421.5H566.25V1372.5H561.75ZM568 1421.5H572.5V1064H568ZM572.5 1421.5H577.5V1194.5H572.5ZM578.75 1421.5H583.75V1245.75H578.75ZM585 1421.5H589.5V1362H585ZM602.5 1421.5H607V1337.5H602.5ZM608.75 1421.5H613V1334H608.75ZM615 1421.5H619.5V1403.25H615ZM620 1421.5H624.5V1333.25H620ZM626.25 1421.5H630.5V1345.75H626.25ZM632 1421.5H636.75V1342H632ZM638.25 1421.5H643V1336.5H638.25ZM643 1421.5H647.5V1339H643ZM649.5 1421.5H653.75V1385.75H649.5ZM655.5 1421.5H660V1297.5H655.5ZM661.25 1421.5H665.5V1316.5H661.25ZM667 1421.5H671.25V1374H667ZM673 1421.5H677.5V1379H673ZM678.75 1421.5H683.25V1384.5H678.75ZM684.5 1421.5H688.75V1402.5H684.5ZM690 1421.5H695V1364.5H690ZM696 1421.5H700V1418.5H696ZM702 1421.5H707V1347H702ZM707.5 1421.5H712V1400.75H707.5ZM725.5 1421.5H730V1362H725.5ZM731 1421.5H735V1416H731ZM736.75 1421.5H741.25V1389H736.75ZM743 1421.5H747.5V1378.25H743ZM749.25 1421.5H753.75V1387H749.25ZM753.75 1421.5H758.25V1355H753.75ZM760 1421.5H764.5V1412H760ZM766.25 1421.5H770.75V1405.75H766.25ZM772.5 1421.5H777V1289.5H772.5ZM777.5 1421.5H782V1417H777.5ZM783.75 1421.5H788V1410H783.75ZM790 1421.5H794.5V1369H790ZM795.75 1421.5H800V1310.75H795.75ZM801 1421.5H806V1414H801ZM807.5 1421.5H811.75V1408.25H807.5ZM813.25 1421.5H818V1342H813.25ZM818.25 1421.5H823V1384.5H818.25ZM824.25 1421.5H828.75V1395H824.25ZM830.75 1421.5H835.5V1304H830.75ZM836.75 1421.5H841.25V1383.25H836.75ZM841.75 1421.5H846.25V1360H841.75ZM848 1421.5H852V1398.25H848ZM854.25 1421.5H858.75V1349H854.25ZM860 1421.5H864.5V1387.5H860ZM865 1421.5H869.5V1335H865ZM871.25 1421.5H875.5V1360.75H871.25ZM877 1421.5H881.75V1367.5H877ZM883.5 1421.5H887.5V1419H883.5ZM888.75 1421.5H893V1377H888.75ZM894.5 1421.5H898.75V1350H894.5ZM900.5 1421.5H905V1309.5H900.5ZM906.75 1421.5H911.25V1336.5H906.75ZM911.25 1421.5H916.25V1340.75H911.25ZM917.5 1421.5H922V1335.75H917.5ZM923.75 1421.5H928.25V1355H923.75ZM930 1421.5H934.5V1297H930ZM935 1421.5H939.5V1339.5H935ZM941.25 1421.5H945.75V1365H941.25ZM947.5 1421.5H952V1406.5H947.5ZM953.25 1421.5H957.5V1375.75H953.25ZM958.75 1421.5H963V1382H958.75ZM964.5 1421.5H969.5V1339.5H964.5ZM971.25 1421.5H975.5V1393.25H971.25ZM975.75 1421.5H980.5V1303.25H975.75ZM982 1421.5H986.75V1344.5H982ZM994.5 1421.5H998.75V1414.5H994.5ZM999.5 1421.5H1003.75V1400H999.5ZM1005 1421.5H1009.5V1408.25H1005ZM1011.75 1421.5H1016.25V1265H1011.75ZM1017.5 1421.5H1022V1242.5H1017.5ZM1022.5 1421.5H1027V1411.5H1022.5ZM1028.75 1421.5H1033V1412.5H1028.75ZM1041.25 1421.5H1045.5V1395.75H1041.25ZM1046.25 1421.5H1050.5V1410.75H1046.25ZM1065 1421.5H1069.5V1409H1065ZM1069.5 1421.5H1074.25V1399.5H1069.5ZM1093 1421.5H1097V1410H1093ZM1099.25 1421.5H1103.75V1387.5H1099.25ZM1105 1421.5H1109.5V1402H1105ZM1110 1421.5H1114.5V1406.5H1110ZM1116.25 1421.5H1120.5V1366.5H1116.25ZM1122 1421.5H1126.75V1319H1122ZM1128 1421.5H1132.5V1328.25H1128ZM1133.75 1421.5H1138V1400.75H1133.75ZM1139.5 1421.5H1143.75V1358.25H1139.5ZM1145.5 1421.5H1150V1284H1145.5ZM1151.75 1421.5H1156.25V1295H1151.75ZM1156.25 1421.5H1161.25V1322H1156.25ZM1163 1421.5H1167.5V1359H1163ZM1168.75 1421.5H1173.25V1395.75H1168.75ZM1175 1421.5H1179.5V1387.5H1175Z"/>
<path fill="none" stroke="#4a8a1e" stroke-width="1.4" d="M881.39 1147.41L884.36 1170.59M887.26 1170.6L890.24 1149.15M894.1 1127.5L895.15 1122.75M923.21 1096.68L925.04 1086.57M935.22 1107.66L936.03 1110.84M946.72 1138.97L947.53 1142.53M957.89 1159.13L960.36 1175.62M987.57 1207.2L988.68 1211.8M993.22 1233.32L994.28 1239.18M1016.93 1238.98L1017.57 1241.77M1028.14 1267.84L1030.11 1279.16M1033.84 1300.85L1035.66 1311.65M1069.61 1326.31L1069.89 1325.19"/>
<path fill="#4a8a1e" d="M815.5 1168.95L819.8 1173.25L815.5 1177.55L811.2 1173.25ZM822 1153.95L826.3 1158.25L822 1162.55L817.7 1158.25ZM828.25 1155.7L832.55 1160L828.25 1164.3L823.95 1160ZM833.75 1150.2L838.05 1154.5L833.75 1158.8L829.45 1154.5ZM840 1160.7L844.3 1165L840 1169.3L835.7 1165ZM845.75 1143.2L850.05 1147.5L845.75 1151.8L841.45 1147.5ZM851.25 1133.95L855.55 1138.25L851.25 1142.55L846.95 1138.25ZM857 1137.7L861.3 1142L857 1146.3L852.7 1142ZM863 1142.2L867.3 1146.5L863 1150.8L858.7 1146.5ZM869.25 1142.2L873.55 1146.5L869.25 1150.8L864.95 1146.5ZM874.5 1146.45L878.8 1150.75L874.5 1155.05L870.2 1150.75ZM880 1132.2L884.3 1136.5L880 1140.8L875.7 1136.5ZM885.75 1177.2L890.05 1181.5L885.75 1185.8L881.45 1181.5ZM891.75 1133.95L896.05 1138.25L891.75 1142.55L887.45 1138.25ZM897.5 1107.7L901.8 1112L897.5 1116.3L893.2 1112ZM903.75 1105.7L908.05 1110L903.75 1114.3L899.45 1110ZM909.25 1092.2L913.55 1096.5L909.25 1100.8L904.95 1096.5ZM915 1112.2L919.3 1116.5L915 1120.8L910.7 1116.5ZM921.25 1103.2L925.55 1107.5L921.25 1111.8L916.95 1107.5ZM927 1071.45L931.3 1075.75L927 1080.05L922.7 1075.75ZM932.5 1092.7L936.8 1097L932.5 1101.3L928.2 1097ZM938.75 1117.2L943.05 1121.5L938.75 1125.8L934.45 1121.5ZM944.25 1123.95L948.55 1128.25L944.25 1132.55L939.95 1128.25ZM950 1148.95L954.3 1153.25L950 1157.55L945.7 1153.25ZM956.25 1143.95L960.55 1148.25L956.25 1152.55L951.95 1148.25ZM962 1182.2L966.3 1186.5L962 1190.8L957.7 1186.5ZM968.4 1177.9L972.7 1182.2L968.4 1186.5L964.1 1182.2ZM974.5 1175.7L978.8 1180L974.5 1184.3L970.2 1180ZM980 1193.95L984.3 1198.25L980 1202.55L975.7 1198.25ZM985 1192.2L989.3 1196.5L985 1200.8L980.7 1196.5ZM991.25 1218.2L995.55 1222.5L991.25 1226.8L986.95 1222.5ZM996.25 1245.7L1000.55 1250L996.25 1254.3L991.95 1250ZM1003 1243.95L1007.3 1248.25L1003 1252.55L998.7 1248.25ZM1008.75 1234.7L1013.05 1239L1008.75 1243.3L1004.45 1239ZM1014.5 1223.95L1018.8 1228.25L1014.5 1232.55L1010.2 1228.25ZM1020 1248.2L1024.3 1252.5L1020 1256.8L1015.7 1252.5ZM1026.25 1252.7L1030.55 1257L1026.25 1261.3L1021.95 1257ZM1032 1285.7L1036.3 1290L1032 1294.3L1027.7 1290ZM1037.5 1318.2L1041.8 1322.5L1037.5 1326.8L1033.2 1322.5ZM1043.75 1324.7L1048.05 1329L1043.75 1333.3L1039.45 1329ZM1049.5 1344.7L1053.8 1349L1049.5 1353.3L1045.2 1349ZM1055.5 1337.7L1059.8 1342L1055.5 1346.3L1051.2 1342ZM1061.25 1343.95L1065.55 1348.25L1061.25 1352.55L1056.95 1348.25ZM1067 1332.7L1071.3 1337L1067 1341.3L1062.7 1337ZM1072.5 1310.2L1076.8 1314.5L1072.5 1318.8L1068.2 1314.5ZM1078.75 1293.95L1083.05 1298.25L1078.75 1302.55L1074.45 1298.25ZM1084.5 1276.45L1088.8 1280.75L1084.5 1285.05L1080.2 1280.75ZM1090 1259.7L1094.3 1264L1090 1268.3L1085.7 1264ZM1096.25 1242.2L1100.55 1246.5L1096.25 1250.8L1091.95 1246.5ZM1102 1225.7L1106.3 1230L1102 1234.3L1097.7 1230ZM1108 1208.95L1112.3 1213.25L1108 1217.55L1103.7 1213.25ZM1113.75 1192.2L1118.05 1196.5L1113.75 1200.8L1109.45 1196.5ZM1119.5 1174.7L1123.8 1179L1119.5 1183.3L1115.2 1179ZM1125 1153.95L1129.3 1158.25L1125 1162.55L1120.7 1158.25ZM1130.5 1155.2L1134.8 1159.5L1130.5 1163.8L1126.2 1159.5ZM1136.25 1150.2L1140.55 1154.5L1136.25 1158.8L1131.95 1154.5ZM1142 1161.45L1146.3 1165.75L1142 1170.05L1137.7 1165.75ZM1148 1147.7L1152.3 1152L1148 1156.3L1143.7 1152ZM1154.25 1131.45L1158.55 1135.75L1154.25 1140.05L1149.95 1135.75ZM1160 1142.7L1164.3 1147L1160 1151.3L1155.7 1147ZM1165.75 1142.2L1170.05 1146.5L1165.75 1150.8L1161.45 1146.5ZM1172 1142.7L1176.3 1147L1172 1151.3L1167.7 1147ZM1177.5 1155.2L1181.8 1159.5L1177.5 1163.8L1173.2 1159.5Z"/>
<path fill="none" stroke="#dd0a0a" stroke-width="1.4" d="M816.96 1234.15L819.29 1251.6M852.07 1242.3L853.68 1250.7M875.51 1249.98L876.49 1245.27M881.69 1245.1L882.06 1246.4M903.21 1236.68L906.79 1269.07M909.92 1290.83L911.83 1301.67M962.08 1251.11L964.02 1237.69M984.93 1207.31L987.57 1182.94M1065.54 1153.95L1066.21 1156.8M1117.3 1234.01L1118.95 1241.74M1123.65 1263.24L1124.6 1267.51M1147.11 1245.81L1147.39 1244.69M1152.08 1244.8L1153.42 1251.7"/>
<path fill="none" stroke="#dd0a0a" stroke-width="1.3" d="M808.7 1223.25H822.3M815.5 1216.45V1230.05M810.7 1218.45L820.3 1228.05M810.7 1228.05L820.3 1218.45M813.95 1262.5H827.55M820.75 1255.7V1269.3M815.95 1257.7L825.55 1267.3M815.95 1267.3L825.55 1257.7M820.2 1273.25H833.8M827 1266.45V1280.05M822.2 1268.45L831.8 1278.05M822.2 1278.05L831.8 1268.45M826.2 1267.5H839.8M833 1260.7V1274.3M828.2 1262.7L837.8 1272.3M828.2 1272.3L837.8 1262.7M830.7 1255.75H844.3M837.5 1248.95V1262.55M832.7 1250.95L842.3 1260.55M832.7 1260.55L842.3 1250.95M837.7 1252H851.3M844.5 1245.2V1258.8M839.7 1247.2L849.3 1256.8M839.7 1256.8L849.3 1247.2M843.2 1231.5H856.8M850 1224.7V1238.3M845.2 1226.7L854.8 1236.3M845.2 1236.3L854.8 1226.7M848.95 1261.5H862.55M855.75 1254.7V1268.3M850.95 1256.7L860.55 1266.3M850.95 1266.3L860.55 1256.7M854.95 1261.5H868.55M861.75 1254.7V1268.3M856.95 1256.7L866.55 1266.3M856.95 1266.3L866.55 1256.7M860.7 1265H874.3M867.5 1258.2V1271.8M862.7 1260.2L872.3 1269.8M862.7 1269.8L872.3 1260.2M866.45 1260.75H880.05M873.25 1253.95V1267.55M868.45 1255.95L878.05 1265.55M868.45 1265.55L878.05 1255.95M871.95 1234.5H885.55M878.75 1227.7V1241.3M873.95 1229.7L883.55 1239.3M873.95 1239.3L883.55 1229.7M878.2 1257H891.8M885 1250.2V1263.8M880.2 1252.2L889.8 1261.8M880.2 1261.8L889.8 1252.2M883.95 1257.5H897.55M890.75 1250.7V1264.3M885.95 1252.7L895.55 1262.3M885.95 1262.3L895.55 1252.7M889.45 1237.5H903.05M896.25 1230.7V1244.3M891.45 1232.7L901.05 1242.3M891.45 1242.3L901.05 1232.7M895.2 1225.75H908.8M902 1218.95V1232.55M897.2 1220.95L906.8 1230.55M897.2 1230.55L906.8 1220.95M901.2 1280H914.8M908 1273.2V1286.8M903.2 1275.2L912.8 1284.8M903.2 1284.8L912.8 1275.2M906.95 1312.5H920.55M913.75 1305.7V1319.3M908.95 1307.7L918.55 1317.3M908.95 1317.3L918.55 1307.7M912.7 1307.5H926.3M919.5 1300.7V1314.3M914.7 1302.7L924.3 1312.3M914.7 1312.3L924.3 1302.7M918.7 1314H932.3M925.5 1307.2V1320.8M920.7 1309.2L930.3 1318.8M920.7 1318.8L930.3 1309.2M924.45 1315.75H938.05M931.25 1308.95V1322.55M926.45 1310.95L936.05 1320.55M926.45 1320.55L936.05 1310.95M930.2 1312.5H943.8M937 1305.7V1319.3M932.2 1307.7L941.8 1317.3M932.2 1317.3L941.8 1307.7M935.7 1298.25H949.3M942.5 1291.45V1305.05M937.7 1293.45L947.3 1303.05M937.7 1303.05L947.3 1293.45M941.95 1284H955.55M948.75 1277.2V1290.8M943.95 1279.2L953.55 1288.8M943.95 1288.8L953.55 1279.2M948.2 1282.5H961.8M955 1275.7V1289.3M950.2 1277.7L959.8 1287.3M950.2 1287.3L959.8 1277.7M953.7 1262H967.3M960.5 1255.2V1268.8M955.7 1257.2L965.3 1266.8M955.7 1266.8L965.3 1257.2M958.8 1226.8H972.4M965.6 1220V1233.6M960.8 1222L970.4 1231.6M960.8 1231.6L970.4 1222M963.2 1207.5H976.8M970 1200.7V1214.3M965.2 1202.7L974.8 1212.3M965.2 1212.3L974.8 1202.7M970.7 1222.5H984.3M977.5 1215.7V1229.3M972.7 1217.7L982.3 1227.3M972.7 1227.3L982.3 1217.7M976.95 1218.25H990.55M983.75 1211.45V1225.05M978.95 1213.45L988.55 1223.05M978.95 1223.05L988.55 1213.45M981.95 1172H995.55M988.75 1165.2V1178.8M983.95 1167.2L993.55 1176.8M983.95 1176.8L993.55 1167.2M987.7 1174.5H1001.3M994.5 1167.7V1181.3M989.7 1169.7L999.3 1179.3M989.7 1179.3L999.3 1169.7M993.2 1173.25H1006.8M1000 1166.45V1180.05M995.2 1168.45L1004.8 1178.05M995.2 1178.05L1004.8 1168.45M998.7 1185.75H1012.3M1005.5 1178.95V1192.55M1000.7 1180.95L1010.3 1190.55M1000.7 1190.55L1010.3 1180.95M1004.45 1197H1018.05M1011.25 1190.2V1203.8M1006.45 1192.2L1016.05 1201.8M1006.45 1201.8L1016.05 1192.2M1010.7 1185.75H1024.3M1017.5 1178.95V1192.55M1012.7 1180.95L1022.3 1190.55M1012.7 1190.55L1022.3 1180.95M1016.2 1189H1029.8M1023 1182.2V1195.8M1018.2 1184.2L1027.8 1193.8M1018.2 1193.8L1027.8 1184.2M1021.95 1183.25H1035.55M1028.75 1176.45V1190.05M1023.95 1178.45L1033.55 1188.05M1023.95 1188.05L1033.55 1178.45M1027.7 1170.75H1041.3M1034.5 1163.95V1177.55M1029.7 1165.95L1039.3 1175.55M1029.7 1175.55L1039.3 1165.95M1033.2 1165H1046.8M1040 1158.2V1171.8M1035.2 1160.2L1044.8 1169.8M1035.2 1169.8L1044.8 1160.2M1038.7 1158.25H1052.3M1045.5 1151.45V1165.05M1040.7 1153.45L1050.3 1163.05M1040.7 1163.05L1050.3 1153.45M1044.45 1157H1058.05M1051.25 1150.2V1163.8M1046.45 1152.2L1056.05 1161.8M1046.45 1161.8L1056.05 1152.2M1050.2 1153.25H1063.8M1057 1146.45V1160.05M1052.2 1148.45L1061.8 1158.05M1052.2 1158.05L1061.8 1148.45M1056.2 1143.25H1069.8M1063 1136.45V1150.05M1058.2 1138.45L1067.8 1148.05M1058.2 1148.05L1067.8 1138.45M1061.95 1167.5H1075.55M1068.75 1160.7V1174.3M1063.95 1162.7L1073.55 1172.3M1063.95 1172.3L1073.55 1162.7M1068.2 1175.75H1081.8M1075 1168.95V1182.55M1070.2 1170.95L1079.8 1180.55M1070.2 1180.55L1079.8 1170.95M1073.7 1184.5H1087.3M1080.5 1177.7V1191.3M1075.7 1179.7L1085.3 1189.3M1075.7 1189.3L1085.3 1179.7M1079.45 1193.25H1093.05M1086.25 1186.45V1200.05M1081.45 1188.45L1091.05 1198.05M1081.45 1198.05L1091.05 1188.45M1085.2 1201.5H1098.8M1092 1194.7V1208.3M1087.2 1196.7L1096.8 1206.3M1087.2 1206.3L1096.8 1196.7M1091.2 1209H1104.8M1098 1202.2V1215.8M1093.2 1204.2L1102.8 1213.8M1093.2 1213.8L1102.8 1204.2M1096.95 1217H1110.55M1103.75 1210.2V1223.8M1098.95 1212.2L1108.55 1221.8M1098.95 1221.8L1108.55 1212.2M1102.7 1224.5H1116.3M1109.5 1217.7V1231.3M1104.7 1219.7L1114.3 1229.3M1104.7 1229.3L1114.3 1219.7M1108.2 1223.25H1121.8M1115 1216.45V1230.05M1110.2 1218.45L1119.8 1228.05M1110.2 1228.05L1119.8 1218.45M1114.45 1252.5H1128.05M1121.25 1245.7V1259.3M1116.45 1247.7L1126.05 1257.3M1116.45 1257.3L1126.05 1247.7M1120.2 1278.25H1133.8M1127 1271.45V1285.05M1122.2 1273.45L1131.8 1283.05M1122.2 1283.05L1131.8 1273.45M1126.2 1266.5H1139.8M1133 1259.7V1273.3M1128.2 1261.7L1137.8 1271.3M1128.2 1271.3L1137.8 1261.7M1131.95 1260.75H1145.55M1138.75 1253.95V1267.55M1133.95 1255.95L1143.55 1265.55M1133.95 1265.55L1143.55 1255.95M1137.7 1256.5H1151.3M1144.5 1249.7V1263.3M1139.7 1251.7L1149.3 1261.3M1139.7 1261.3L1149.3 1251.7M1143.2 1234H1156.8M1150 1227.2V1240.8M1145.2 1229.2L1154.8 1238.8M1145.2 1238.8L1154.8 1229.2M1148.7 1262.5H1162.3M1155.5 1255.7V1269.3M1150.7 1257.7L1160.3 1267.3M1150.7 1267.3L1160.3 1257.7M1154.45 1268.25H1168.05M1161.25 1261.45V1275.05M1156.45 1263.45L1166.05 1273.05M1156.45 1273.05L1166.05 1263.45M1160.7 1274.5H1174.3M1167.5 1267.7V1281.3M1162.7 1269.7L1172.3 1279.3M1162.7 1279.3L1172.3 1269.7M1165.7 1280H1179.3M1172.5 1273.2V1286.8M1167.7 1275.2L1177.3 1284.8M1167.7 1284.8L1177.3 1275.2M1169.45 1277.5H1183.05M1176.25 1270.7V1284.3M1171.45 1272.7L1181.05 1282.3M1171.45 1282.3L1181.05 1272.7"/>
<rect x="233.6" y="1059" width="980.3" height="365" fill="none" stroke="#1a1a1a" stroke-width="1.6"/>
<path stroke="#444" stroke-width="1.6" d="M270.3 1424V1437M296.17 1424V1437M322.05 1424V1437M347.92 1424V1437M373.8 1424V1437M399.67 1424V1437M425.54 1424V1437M451.42 1424V1437M477.29 1424V1437M503.17 1424V1437M529.04 1424V1437M554.91 1424V1437M580.79 1424V1437M606.66 1424V1437M632.54 1424V1437M658.41 1424V1437M684.28 1424V1437M710.16 1424V1437M736.03 1424V1437M761.91 1424V1437M787.78 1424V1437M813.65 1424V1437M839.53 1424V1437M865.4 1424V1437M891.28 1424V1437M917.15 1424V1437M943.02 1424V1437M968.9 1424V1437M994.77 1424V1437M1020.65 1424V1437M1046.52 1424V1437M1072.39 1424V1437M1098.27 1424V1437M1124.14 1424V1437M1150.02 1424V1437M1175.89 1424V1437"/>
<path stroke="#1a1a1a" stroke-width="1.5" d="M221 1072.5H233.6M221 1120.86H233.6M221 1169.22H233.6M221 1217.58H233.6M221 1265.94H233.6M221 1314.3H233.6M221 1362.66H233.6M221 1411.02H233.6"/>
<text transform="translate(205.36 1160.06) rotate(-90) scale(0.9228 1)" font-size="34.08">0.362</text>
<text transform="translate(205.36 1305.14) rotate(-90) scale(0.9228 1)" font-size="34.08">0.356</text>
<text transform="translate(205.36 1450.32) rotate(-90) scale(0.9228 1)" font-size="34.08">0.350</text>
<path fill="none" stroke="#1a1a1a" stroke-width="1.5" d="M121.4 1069.2V1416.6M108.5 1069.2H121.4M108.5 1156.05H121.4M108.5 1242.9H121.4M108.5 1329.75H121.4M108.5 1416.6H121.4"/>
<text transform="translate(92.26 1109.64) rotate(-90) scale(0.9493 1)" font-size="34.08">0.320</text>
<text transform="translate(92.26 1283.34) rotate(-90) scale(0.9493 1)" font-size="34.08">0.310</text>
<text transform="translate(92.26 1457.04) rotate(-90) scale(0.9493 1)" font-size="34.08">0.300</text>
<text transform="translate(35.33 1274.68) rotate(-90) scale(1.0153 1)" font-size="36.71">Rcc</text>
<text transform="translate(156.65 1272.79) rotate(-90) scale(1.0318 1)" font-size="34.79">Gcc</text>
<path stroke="#1a1a1a" stroke-width="1.5" d="M1213.9 1347.2H1226.9M1213.9 1269.5H1226.9M1213.9 1190.8H1226.9M1213.9 1111.8H1226.9"/>
<text transform="translate(1257.67 1356) rotate(-90) scale(0.9627 1)" font-size="33.24">4</text>
<text transform="translate(1257.67 1278.46) rotate(-90) scale(0.9627 1)" font-size="33.24">6</text>
<text transform="translate(1257.67 1199.76) rotate(-90) scale(0.9627 1)" font-size="33.24">8</text>
<text transform="translate(1257.67 1130.12) rotate(-90) scale(0.9627 1)" font-size="33.24">10</text>
<text transform="translate(1306.9 1440.08) rotate(-90) scale(0.9840 1)" font-size="36.2">GPP</text><text transform="translate(1306.9 1357.73) rotate(-90) scale(1.3030 1)" font-size="36.2">(</text><text transform="translate(1306.9 1342.4) rotate(-90) scale(1.0252 1)" font-size="36.2">µ</text><text transform="translate(1306.9 1313.31) rotate(-90) scale(0.9836 1)" font-size="36.2">mol</text><text transform="translate(1306.9 1246.29) rotate(-90) scale(0.9866 1)" font-size="36.2">CO</text><text transform="translate(1288.3 1193.67) rotate(-90) scale(1.2571 1)" font-size="25">2</text><text transform="translate(1306.9 1168.84) rotate(-90) scale(0.9077 1)" font-size="36.2">m</text><text transform="translate(1288.3 1140.31) rotate(-90) scale(1.1308 1)" font-size="25">−2</text><text transform="translate(1306.9 1102.59) rotate(-90) scale(0.9081 1)" font-size="36.2">s</text><text transform="translate(1288.3 1085.21) rotate(-90) scale(0.8846 1)" font-size="25">−1</text><text transform="translate(1306.9 1056.86) rotate(-90) scale(1.2643 1)" font-size="36.2">)</text>
<path fill="none" stroke="#1a1a1a" stroke-width="1.5" d="M1346.2 1061.8V1423.2M1346.2 1061.8H1359M1346.2 1182.3H1359M1346.2 1302.7H1359M1346.2 1423.2H1359"/>
<text transform="translate(1390.95 1078.56) rotate(-90) scale(0.8750 1)" font-size="34.51">30</text>
<text transform="translate(1390.95 1199.21) rotate(-90) scale(0.8750 1)" font-size="34.51">20</text>
<text transform="translate(1390.95 1319.99) rotate(-90) scale(0.8750 1)" font-size="34.51">10</text>
<text transform="translate(1390.95 1431.58) rotate(-90) scale(0.8750 1)" font-size="34.51">0</text>
<text transform="translate(1437.6 1344.42) rotate(-90) scale(0.8934 1)" font-size="38">Rainfall (mm)</text>
<text transform="translate(1.49 1007.96) scale(0.9196 1)" font-size="43.66" font-weight="bold">C</text>
<text transform="translate(307.72 1013.29) scale(1.0378 1)" font-size="41.22" font-weight="normal">rainforest</text>
<text transform="translate(269.3 1468.7) scale(0.915 1)" font-size="25.3" text-anchor="middle">J</text>
<text transform="translate(321.05 1468.7) scale(0.915 1)" font-size="25.3" text-anchor="middle">M</text>
<text transform="translate(372.8 1468.7) scale(0.915 1)" font-size="25.3" text-anchor="middle">M</text>
<text transform="translate(424.54 1468.7) scale(0.915 1)" font-size="25.3" text-anchor="middle">J</text>
<text transform="translate(476.29 1468.7) scale(0.915 1)" font-size="25.3" text-anchor="middle">S</text>
<text transform="translate(528.04 1468.7) scale(0.915 1)" font-size="25.3" text-anchor="middle">N</text>
<text transform="translate(579.79 1468.7) scale(0.915 1)" font-size="25.3" text-anchor="middle">J</text>
<text transform="translate(631.54 1468.7) scale(0.915 1)" font-size="25.3" text-anchor="middle">M</text>
<text transform="translate(683.28 1468.7) scale(0.915 1)" font-size="25.3" text-anchor="middle">M</text>
<text transform="translate(735.03 1468.7) scale(0.915 1)" font-size="25.3" text-anchor="middle">J</text>
<text transform="translate(786.78 1468.7) scale(0.915 1)" font-size="25.3" text-anchor="middle">S</text>
<text transform="translate(838.53 1468.7) scale(0.915 1)" font-size="25.3" text-anchor="middle">N</text>
<text transform="translate(890.28 1468.7) scale(0.915 1)" font-size="25.3" text-anchor="middle">J</text>
<text transform="translate(942.02 1468.7) scale(0.915 1)" font-size="25.3" text-anchor="middle">M</text>
<text transform="translate(993.77 1468.7) scale(0.915 1)" font-size="25.3" text-anchor="middle">M</text>
<text transform="translate(1045.52 1468.7) scale(0.915 1)" font-size="25.3" text-anchor="middle">J</text>
<text transform="translate(1097.27 1468.7) scale(0.915 1)" font-size="25.3" text-anchor="middle">S</text>
<text transform="translate(1149.02 1468.7) scale(0.915 1)" font-size="25.3" text-anchor="middle">N</text>
<text x="418.75" y="1508.8" font-size="31.4" text-anchor="middle">2013</text>
<text x="737.6" y="1508.8" font-size="31.4" text-anchor="middle">2014</text>
<text x="1048.2" y="1508.8" font-size="31.4" text-anchor="middle">2015</text>
<path stroke="#333" stroke-width="1.5" d="M1247 538.5H1256.5"/>
</svg></body></html>
